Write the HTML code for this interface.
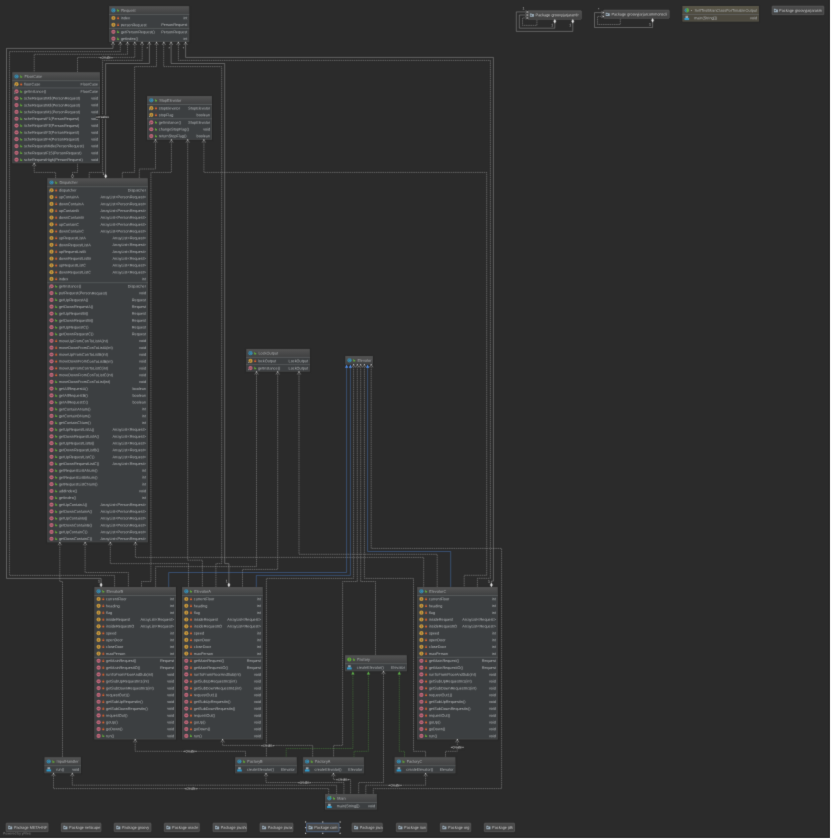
<!DOCTYPE html>
<html><head><meta charset="utf-8"><title>UML diagram</title>
<style>
html,body{margin:0;padding:0;background:#2b2b2b;overflow:hidden}
svg{display:block;will-change:transform;font-family:"Liberation Sans",sans-serif}
.d{fill:none;stroke:#adadad;stroke-width:.42;stroke-dasharray:1.55 .65}
.s{fill:none;stroke:#adadad;stroke-width:.42}
text{white-space:pre;text-rendering:geometricPrecision}
</style></head><body>
<svg width="831" height="839" viewBox="0 0 831 839">
<defs>
<linearGradient id="hg" x1="0" y1="0" x2="0" y2="1"><stop offset="0" stop-color="#535353"/><stop offset="1" stop-color="#3f4041"/></linearGradient>
<linearGradient id="hy" x1="0" y1="0" x2="0" y2="1"><stop offset="0" stop-color="#5a5648"/><stop offset="1" stop-color="#4d4a3f"/></linearGradient>
<linearGradient id="pg" x1="0" y1="0" x2="0" y2="1"><stop offset="0" stop-color="#4d4d4d"/><stop offset="1" stop-color="#404040"/></linearGradient>
<filter id="soft" x="0" y="0" width="831" height="839" filterUnits="userSpaceOnUse" color-interpolation-filters="sRGB"><feConvolveMatrix order="3" kernelMatrix="1 6 1 6 44 6 1 6 1" divisor="72" edgeMode="duplicate" preserveAlpha="false"/></filter>
</defs>
<rect width="831" height="839" fill="#2b2b2b"/>
<g filter="url(#soft)">
<path d="M113.00 42.20 L113.00 48.40 L6.50 48.40 L6.50 578.40 L101.10 578.40 L101.10 587.00" class="s"/>
<path d="M120.30 42.20 L120.30 51.60 L9.40 51.60 L9.40 575.40 L114.60 575.40 L114.60 587.00" class="d"/>
<path d="M127.50 42.20 L127.50 54.30 L34.20 54.30 L34.20 72.20" class="d"/>
<path d="M134.80 42.20 L134.80 57.40 L77.50 57.40 L77.50 72.20" class="d"/>
<path d="M142.20 42.20 L142.20 60.40 L102.60 60.40 L102.60 172.40 L89.20 172.40 L89.20 178.20" class="d"/>
<path d="M149.40 42.20 L149.40 63.50 L105.60 63.50 L105.60 178.20" class="s"/>
<path d="M156.50 42.20 L156.50 66.60 L134.60 66.60 L134.60 172.40 L122.30 172.40 L122.30 178.20" class="d"/>
<path d="M163.70 42.20 L163.70 66.60 L221.70 66.60 L221.70 563.60 L215.90 563.60 L215.90 587.00" class="d"/>
<path d="M171.10 42.20 L171.10 63.50 L224.70 63.50 L224.70 563.60 L228.90 563.60 L228.90 587.00" class="s"/>
<path d="M178.40 42.20 L178.40 60.40 L490.40 60.40 L490.40 578.30 L477.40 578.30 L477.40 587.00" class="d"/>
<path d="M185.60 42.20 L185.60 57.40 L493.40 57.40 L493.40 581.10 L491.40 581.10 L491.40 587.00" class="s"/>
<text transform="rotate(.03 147.30 49.60)" x="147.30" y="49.60" font-size="3.5" text-anchor="middle" fill="#c4c4c4">*</text>
<text transform="rotate(.03 169.20 49.60)" x="169.20" y="49.60" font-size="3.5" text-anchor="middle" fill="#c4c4c4">*</text>
<text transform="rotate(.03 183.40 49.60)" x="183.40" y="49.60" font-size="3.5" text-anchor="middle" fill="#c4c4c4">*</text>
<path d="M155.50 139.80 L155.50 169.00 L139.30 169.00 L139.30 178.20" class="d"/>
<path d="M171.40 139.80 L171.40 172.40 L150.90 172.40 L150.90 581.50 L141.50 581.50 L141.50 587.00" class="d"/>
<path d="M187.70 139.80 L187.70 560.20 L202.40 560.20 L202.40 587.00" class="d"/>
<path d="M203.90 139.80 L203.90 172.40 L486.70 172.40 L486.70 575.30 L464.20 575.30 L464.20 587.00" class="d"/>
<path d="M34.20 163.30 L34.20 172.40 L55.60 172.40 L55.60 178.20" class="d"/>
<path d="M77.50 163.30 L77.50 172.40 L72.50 172.40 L72.50 178.20" class="d"/>
<path d="M59.80 542.40 L59.80 581.50 L62.50 581.50 L62.50 757.20" class="d"/>
<path d="M85.10 542.40 L85.10 572.50 L128.40 572.50 L128.40 587.00" class="d"/>
<path d="M110.30 542.40 L110.30 563.60 L188.50 563.60 L188.50 587.00" class="d"/>
<path d="M135.40 542.40 L135.40 557.40 L423.70 557.40 L423.70 587.00" class="d"/>
<path d="M256.50 371.70 L256.50 566.60 L155.60 566.60 L155.60 587.00" class="d"/>
<path d="M277.70 371.70 L277.70 569.40 L242.50 569.40 L242.50 587.00" class="d"/>
<path d="M299.00 371.70 L299.00 554.30 L437.20 554.30 L437.20 587.00" class="d"/>
<path d="M346.60 364.50 L346.60 572.50 L168.70 572.50 L168.70 587.00" class="s" style="stroke:#4a7fd0"/>
<path d="M350.40 364.50 L350.40 575.40 L256.30 575.40 L256.30 587.00" class="s" style="stroke:#4a7fd0"/>
<path d="M353.60 364.50 L353.60 578.40 L266.40 578.40 L266.40 757.20" class="d"/>
<path d="M357.30 364.50 L357.30 581.50 L342.60 581.50 L342.60 745.40 L333.60 745.40 L333.60 757.20" class="d"/>
<path d="M360.70 364.50 L360.70 581.50 L375.50 581.50 L375.50 655.20" class="d"/>
<path d="M364.40 364.50 L364.40 578.40 L413.50 578.40 L413.50 751.30 L425.60 751.30 L425.60 757.20" class="d"/>
<path d="M367.60 364.50 L367.60 551.50 L450.70 551.50 L450.70 587.00" class="s" style="stroke:#4a7fd0"/>
<path d="M371.20 364.50 L371.20 548.40 L501.60 548.40 L501.60 788.60 L373.30 788.60 L373.30 794.00" class="d"/>
<path d="M135.20 739.50 L135.20 751.30 L245.50 751.30 L245.50 757.20" class="d"/>
<path d="M222.60 739.50 L222.60 745.40 L312.70 745.40 L312.70 757.20" class="d"/>
<path d="M457.30 739.50 L457.30 751.30 L445.50 751.30 L445.50 757.20" class="d"/>
<path d="M352.90 671.30 L352.90 748.50 L286.20 748.50 L286.20 757.20" class="d" style="stroke:#4f9440"/>
<path d="M368.40 671.30 L368.40 751.30 L354.00 751.30 L354.00 757.20" class="d" style="stroke:#4f9440"/>
<path d="M399.30 671.30 L399.30 751.30 L404.50 751.30 L404.50 757.20" class="d" style="stroke:#4f9440"/>
<path d="M383.50 671.30 L383.50 782.50 L358.70 782.50 L358.70 794.00" class="d"/>
<path d="M53.50 773.30 L53.50 788.60 L328.70 788.60 L328.70 794.00" class="d"/>
<path d="M72.30 773.30 L72.30 785.20 L336.60 785.20 L336.60 794.00" class="d"/>
<path d="M266.00 773.40 L266.00 782.50 L343.90 782.50 L343.90 794.00" class="d"/>
<path d="M333.40 773.40 L333.40 779.60 L350.60 779.60 L350.60 794.00" class="d"/>
<path d="M425.60 773.40 L425.60 785.20 L365.80 785.20 L365.80 794.00" class="d"/>
<path d="M572.80 19.30 L572.80 31.40 L516.30 31.40 L516.30 11.90 L527.80 11.90" class="s"/>
<path d="M554.80 19.30 L554.80 28.20 L519.30 28.20 L519.30 15.00 L527.80 15.00" class="s"/>
<path d="M536.90 19.30 L536.90 25.40 L522.50 25.40 L522.50 17.90 L527.80 17.90" class="d"/>
<path d="M652.60 18.30 L652.60 27.50 L594.50 27.50 L594.50 12.60 L603.60 12.60" class="s"/>
<path d="M620.30 18.30 L620.30 24.50 L597.50 24.50 L597.50 16.40 L603.60 16.40" class="d"/>
<rect x="108.30" y="5.90" width="81.80" height="37.10" fill="#202020" fill-opacity=".5"/>
<rect x="109.10" y="6.10" width="80.20" height="36.10" fill="#484949"/>
<rect x="110.00" y="14.50" width="78.40" height="26.80" fill="#3c3f41"/>
<rect x="109.60" y="6.40" width="79.20" height="8.10" fill="url(#hg)"/>
<circle cx="113.40" cy="10.40" r="2.1" fill="#3a8fb5"/>
<path d="M114.20 9.60a1.1 1.1 0 1 0 0 1.6" fill="none" stroke="#2b2b2b" stroke-opacity=".5" stroke-width=".55"/>
<path d="M117.10 9.10l.7 0 0 1 1.3 0 0 1.5-2 0z" fill="#62a83a"/>
<text transform="rotate(.03 121.30 11.75)" x="121.30" y="11.75" font-size="3.85" text-anchor="start" fill="#aeb1b3">Request</text>
<line x1="109.10" x2="189.30" y1="14.60" y2="14.60" stroke="#676b6d" stroke-width=".55"/>
<circle cx="113.40" cy="18.01" r="2.1" fill="#c8983c"/>
<rect x="113.10" y="16.91" width=".6" height="2.2" fill="#2b2b2b" fill-opacity=".5"/>
<rect x="117.15" y="17.66" width="1.9" height="1.5" fill="#dd6330"/><path d="M117.60 17.71v-.45a.5 .5 0 0 1 1 0v.45" fill="none" stroke="#dd6330" stroke-width=".38"/>
<text transform="rotate(.03 120.90 19.31)" x="120.90" y="19.31" font-size="3.8" text-anchor="start" fill="#b6b9bb">index</text>
<text transform="rotate(.03 187.40 19.31)" x="187.40" y="19.31" font-size="3.8" text-anchor="end" fill="#b6b9bb">int</text>
<circle cx="113.40" cy="24.84" r="2.1" fill="#c8983c"/>
<rect x="113.10" y="23.74" width=".6" height="2.2" fill="#2b2b2b" fill-opacity=".5"/>
<rect x="117.15" y="24.49" width="1.9" height="1.5" fill="#dd6330"/><path d="M117.60 24.54v-.45a.5 .5 0 0 1 1 0v.45" fill="none" stroke="#dd6330" stroke-width=".38"/>
<text transform="rotate(.03 120.90 26.14)" x="120.90" y="26.14" font-size="3.8" text-anchor="start" fill="#b6b9bb">personRequest</text>
<text transform="rotate(.03 187.40 26.14)" x="187.40" y="26.14" font-size="3.8" text-anchor="end" fill="#b6b9bb">PersonRequest</text>
<line x1="109.10" x2="189.30" y1="28.45" y2="28.45" stroke="#676b6d" stroke-width=".55"/>
<circle cx="113.40" cy="31.86" r="2.1" fill="#c4687c"/>
<rect x="112.30" y="31.31" width="2.2" height="1.1" fill="#2b2b2b" fill-opacity=".4"/>
<path d="M117.10 30.56l.7 0 0 1 1.3 0 0 1.5-2 0z" fill="#62a83a"/>
<text transform="rotate(.03 120.90 33.16)" x="120.90" y="33.16" font-size="3.8" text-anchor="start" fill="#b6b9bb">getPersonRequest()</text>
<text transform="rotate(.03 187.40 33.16)" x="187.40" y="33.16" font-size="3.8" text-anchor="end" fill="#b6b9bb">PersonRequest</text>
<circle cx="113.40" cy="38.69" r="2.1" fill="#c4687c"/>
<rect x="112.30" y="38.14" width="2.2" height="1.1" fill="#2b2b2b" fill-opacity=".4"/>
<path d="M117.10 37.39l.7 0 0 1 1.3 0 0 1.5-2 0z" fill="#62a83a"/>
<text transform="rotate(.03 120.90 39.99)" x="120.90" y="39.99" font-size="3.8" text-anchor="start" fill="#b6b9bb">getIndex()</text>
<text transform="rotate(.03 187.40 39.99)" x="187.40" y="39.99" font-size="3.8" text-anchor="end" fill="#b6b9bb">int</text>
<rect x="11.40" y="72.00" width="89.40" height="92.10" fill="#202020" fill-opacity=".5"/>
<rect x="12.20" y="72.20" width="87.80" height="91.10" fill="#484949"/>
<rect x="13.10" y="80.60" width="86.00" height="81.80" fill="#3c3f41"/>
<rect x="12.70" y="72.50" width="86.80" height="8.10" fill="url(#hg)"/>
<circle cx="16.50" cy="76.50" r="2.1" fill="#3a8fb5"/>
<path d="M17.30 75.70a1.1 1.1 0 1 0 0 1.6" fill="none" stroke="#2b2b2b" stroke-opacity=".5" stroke-width=".55"/>
<path d="M20.20 75.20l.7 0 0 1 1.3 0 0 1.5-2 0z" fill="#62a83a"/>
<text transform="rotate(.03 24.40 77.85)" x="24.40" y="77.85" font-size="3.85" text-anchor="start" fill="#aeb1b3">FloorCase</text>
<line x1="12.20" x2="100.00" y1="80.70" y2="80.70" stroke="#676b6d" stroke-width=".55"/>
<circle cx="16.50" cy="84.21" r="2.1" fill="#c8983c"/>
<rect x="16.20" y="83.11" width=".6" height="2.2" fill="#2b2b2b" fill-opacity=".5"/>
<rect x="14.10" y="85.01" width="1.6" height="1.4" fill="#3c3f41"/><rect x="14.20" y="85.51" width="1.2" height=".7" fill="#c8c8c8"/>
<rect x="20.25" y="83.86" width="1.9" height="1.5" fill="#dd6330"/><path d="M20.70 83.91v-.45a.5 .5 0 0 1 1 0v.45" fill="none" stroke="#dd6330" stroke-width=".38"/>
<text transform="rotate(.03 24.00 85.51)" x="24.00" y="85.51" font-size="3.8" text-anchor="start" fill="#b6b9bb">floorCase</text>
<text transform="rotate(.03 98.10 85.51)" x="98.10" y="85.51" font-size="3.8" text-anchor="end" fill="#b6b9bb">FloorCase</text>
<line x1="12.20" x2="100.00" y1="87.93" y2="87.93" stroke="#676b6d" stroke-width=".55"/>
<circle cx="16.50" cy="91.44" r="2.1" fill="#c4687c"/>
<rect x="15.40" y="90.89" width="2.2" height="1.1" fill="#2b2b2b" fill-opacity=".4"/>
<rect x="14.10" y="92.24" width="1.6" height="1.4" fill="#3c3f41"/><rect x="14.20" y="92.74" width="1.2" height=".7" fill="#c8c8c8"/>
<path d="M20.20 90.14l.7 0 0 1 1.3 0 0 1.5-2 0z" fill="#62a83a"/>
<text transform="rotate(.03 24.00 92.74)" x="24.00" y="92.74" font-size="3.8" text-anchor="start" fill="#b6b9bb">getInstance()</text>
<text transform="rotate(.03 98.10 92.74)" x="98.10" y="92.74" font-size="3.8" text-anchor="end" fill="#b6b9bb">FloorCase</text>
<circle cx="16.50" cy="98.26" r="2.1" fill="#c4687c"/>
<rect x="15.40" y="97.71" width="2.2" height="1.1" fill="#2b2b2b" fill-opacity=".4"/>
<path d="M20.20 96.96l.7 0 0 1 1.3 0 0 1.5-2 0z" fill="#62a83a"/>
<text transform="rotate(.03 24.00 99.56)" x="24.00" y="99.56" font-size="3.8" text-anchor="start" fill="#b6b9bb">scheRequestM3(PersonRequest)</text>
<text transform="rotate(.03 98.10 99.56)" x="98.10" y="99.56" font-size="3.8" text-anchor="end" fill="#b6b9bb">void</text>
<circle cx="16.50" cy="105.09" r="2.1" fill="#c4687c"/>
<rect x="15.40" y="104.54" width="2.2" height="1.1" fill="#2b2b2b" fill-opacity=".4"/>
<path d="M20.20 103.79l.7 0 0 1 1.3 0 0 1.5-2 0z" fill="#62a83a"/>
<text transform="rotate(.03 24.00 106.39)" x="24.00" y="106.39" font-size="3.8" text-anchor="start" fill="#b6b9bb">scheRequestM2(PersonRequest)</text>
<text transform="rotate(.03 98.10 106.39)" x="98.10" y="106.39" font-size="3.8" text-anchor="end" fill="#b6b9bb">void</text>
<circle cx="16.50" cy="111.91" r="2.1" fill="#c4687c"/>
<rect x="15.40" y="111.36" width="2.2" height="1.1" fill="#2b2b2b" fill-opacity=".4"/>
<path d="M20.20 110.61l.7 0 0 1 1.3 0 0 1.5-2 0z" fill="#62a83a"/>
<text transform="rotate(.03 24.00 113.21)" x="24.00" y="113.21" font-size="3.8" text-anchor="start" fill="#b6b9bb">scheRequestM1(PersonRequest)</text>
<text transform="rotate(.03 98.10 113.21)" x="98.10" y="113.21" font-size="3.8" text-anchor="end" fill="#b6b9bb">void</text>
<circle cx="16.50" cy="118.74" r="2.1" fill="#c4687c"/>
<rect x="15.40" y="118.19" width="2.2" height="1.1" fill="#2b2b2b" fill-opacity=".4"/>
<path d="M20.20 117.44l.7 0 0 1 1.3 0 0 1.5-2 0z" fill="#62a83a"/>
<text transform="rotate(.03 24.00 120.04)" x="24.00" y="120.04" font-size="3.8" text-anchor="start" fill="#b6b9bb">scheRequestF1(PersonRequest)</text>
<text transform="rotate(.03 98.10 120.04)" x="98.10" y="120.04" font-size="3.8" text-anchor="end" fill="#b6b9bb">void</text>
<circle cx="16.50" cy="125.56" r="2.1" fill="#c4687c"/>
<rect x="15.40" y="125.01" width="2.2" height="1.1" fill="#2b2b2b" fill-opacity=".4"/>
<path d="M20.20 124.26l.7 0 0 1 1.3 0 0 1.5-2 0z" fill="#62a83a"/>
<text transform="rotate(.03 24.00 126.86)" x="24.00" y="126.86" font-size="3.8" text-anchor="start" fill="#b6b9bb">scheRequestF2(PersonRequest)</text>
<text transform="rotate(.03 98.10 126.86)" x="98.10" y="126.86" font-size="3.8" text-anchor="end" fill="#b6b9bb">void</text>
<circle cx="16.50" cy="132.39" r="2.1" fill="#c4687c"/>
<rect x="15.40" y="131.84" width="2.2" height="1.1" fill="#2b2b2b" fill-opacity=".4"/>
<path d="M20.20 131.09l.7 0 0 1 1.3 0 0 1.5-2 0z" fill="#62a83a"/>
<text transform="rotate(.03 24.00 133.69)" x="24.00" y="133.69" font-size="3.8" text-anchor="start" fill="#b6b9bb">scheRequestF3(PersonRequest)</text>
<text transform="rotate(.03 98.10 133.69)" x="98.10" y="133.69" font-size="3.8" text-anchor="end" fill="#b6b9bb">void</text>
<circle cx="16.50" cy="139.21" r="2.1" fill="#c4687c"/>
<rect x="15.40" y="138.66" width="2.2" height="1.1" fill="#2b2b2b" fill-opacity=".4"/>
<path d="M20.20 137.91l.7 0 0 1 1.3 0 0 1.5-2 0z" fill="#62a83a"/>
<text transform="rotate(.03 24.00 140.51)" x="24.00" y="140.51" font-size="3.8" text-anchor="start" fill="#b6b9bb">scheRequestF4(PersonRequest)</text>
<text transform="rotate(.03 98.10 140.51)" x="98.10" y="140.51" font-size="3.8" text-anchor="end" fill="#b6b9bb">void</text>
<circle cx="16.50" cy="146.04" r="2.1" fill="#c4687c"/>
<rect x="15.40" y="145.49" width="2.2" height="1.1" fill="#2b2b2b" fill-opacity=".4"/>
<path d="M20.20 144.74l.7 0 0 1 1.3 0 0 1.5-2 0z" fill="#62a83a"/>
<text transform="rotate(.03 24.00 147.34)" x="24.00" y="147.34" font-size="3.8" text-anchor="start" fill="#b6b9bb">scheRequestMidle(PersonRequest)</text>
<text transform="rotate(.03 98.10 147.34)" x="98.10" y="147.34" font-size="3.8" text-anchor="end" fill="#b6b9bb">void</text>
<circle cx="16.50" cy="152.86" r="2.1" fill="#c4687c"/>
<rect x="15.40" y="152.31" width="2.2" height="1.1" fill="#2b2b2b" fill-opacity=".4"/>
<path d="M20.20 151.56l.7 0 0 1 1.3 0 0 1.5-2 0z" fill="#62a83a"/>
<text transform="rotate(.03 24.00 154.16)" x="24.00" y="154.16" font-size="3.8" text-anchor="start" fill="#b6b9bb">scheRequestF15(PersonRequest)</text>
<text transform="rotate(.03 98.10 154.16)" x="98.10" y="154.16" font-size="3.8" text-anchor="end" fill="#b6b9bb">void</text>
<circle cx="16.50" cy="159.69" r="2.1" fill="#c4687c"/>
<rect x="15.40" y="159.14" width="2.2" height="1.1" fill="#2b2b2b" fill-opacity=".4"/>
<path d="M20.20 158.39l.7 0 0 1 1.3 0 0 1.5-2 0z" fill="#62a83a"/>
<text transform="rotate(.03 24.00 160.99)" x="24.00" y="160.99" font-size="3.8" text-anchor="start" fill="#b6b9bb">scheRequestHigh(PersonRequest)</text>
<text transform="rotate(.03 98.10 160.99)" x="98.10" y="160.99" font-size="3.8" text-anchor="end" fill="#b6b9bb">void</text>
<rect x="146.20" y="95.80" width="66.60" height="44.80" fill="#202020" fill-opacity=".5"/>
<rect x="147.00" y="96.00" width="65.00" height="43.80" fill="#484949"/>
<rect x="147.90" y="104.40" width="63.20" height="34.50" fill="#3c3f41"/>
<rect x="147.50" y="96.30" width="64.00" height="8.10" fill="url(#hg)"/>
<circle cx="151.30" cy="100.30" r="2.1" fill="#3a8fb5"/>
<path d="M152.10 99.50a1.1 1.1 0 1 0 0 1.6" fill="none" stroke="#2b2b2b" stroke-opacity=".5" stroke-width=".55"/>
<path d="M155.00 99.00l.7 0 0 1 1.3 0 0 1.5-2 0z" fill="#62a83a"/>
<text transform="rotate(.03 159.20 101.65)" x="159.20" y="101.65" font-size="3.85" text-anchor="start" fill="#aeb1b3">StopElevator</text>
<line x1="147.00" x2="212.00" y1="104.50" y2="104.50" stroke="#676b6d" stroke-width=".55"/>
<circle cx="151.30" cy="108.13" r="2.1" fill="#c8983c"/>
<rect x="151.00" y="107.03" width=".6" height="2.2" fill="#2b2b2b" fill-opacity=".5"/>
<rect x="148.90" y="108.93" width="1.6" height="1.4" fill="#3c3f41"/><rect x="149.00" y="109.43" width="1.2" height=".7" fill="#c8c8c8"/>
<rect x="155.05" y="107.78" width="1.9" height="1.5" fill="#dd6330"/><path d="M155.50 107.83v-.45a.5 .5 0 0 1 1 0v.45" fill="none" stroke="#dd6330" stroke-width=".38"/>
<text transform="rotate(.03 158.80 109.43)" x="158.80" y="109.43" font-size="3.8" text-anchor="start" fill="#b6b9bb">stopElevator</text>
<text transform="rotate(.03 210.10 109.43)" x="210.10" y="109.43" font-size="3.8" text-anchor="end" fill="#b6b9bb">StopElevator</text>
<circle cx="151.30" cy="114.96" r="2.1" fill="#c8983c"/>
<rect x="151.00" y="113.86" width=".6" height="2.2" fill="#2b2b2b" fill-opacity=".5"/>
<rect x="148.90" y="115.76" width="1.6" height="1.4" fill="#3c3f41"/><rect x="149.00" y="116.26" width="1.2" height=".7" fill="#c8c8c8"/>
<rect x="155.05" y="114.61" width="1.9" height="1.5" fill="#dd6330"/><path d="M155.50 114.66v-.45a.5 .5 0 0 1 1 0v.45" fill="none" stroke="#dd6330" stroke-width=".38"/>
<text transform="rotate(.03 158.80 116.26)" x="158.80" y="116.26" font-size="3.8" text-anchor="start" fill="#b6b9bb">stopFlag</text>
<text transform="rotate(.03 210.10 116.26)" x="210.10" y="116.26" font-size="3.8" text-anchor="end" fill="#b6b9bb">boolean</text>
<line x1="147.00" x2="212.00" y1="118.79" y2="118.79" stroke="#676b6d" stroke-width=".55"/>
<circle cx="151.30" cy="122.42" r="2.1" fill="#c4687c"/>
<rect x="150.20" y="121.87" width="2.2" height="1.1" fill="#2b2b2b" fill-opacity=".4"/>
<rect x="148.90" y="123.22" width="1.6" height="1.4" fill="#3c3f41"/><rect x="149.00" y="123.72" width="1.2" height=".7" fill="#c8c8c8"/>
<path d="M155.00 121.12l.7 0 0 1 1.3 0 0 1.5-2 0z" fill="#62a83a"/>
<text transform="rotate(.03 158.80 123.72)" x="158.80" y="123.72" font-size="3.8" text-anchor="start" fill="#b6b9bb">getInstance()</text>
<text transform="rotate(.03 210.10 123.72)" x="210.10" y="123.72" font-size="3.8" text-anchor="end" fill="#b6b9bb">StopElevator</text>
<circle cx="151.30" cy="129.24" r="2.1" fill="#c4687c"/>
<rect x="150.20" y="128.69" width="2.2" height="1.1" fill="#2b2b2b" fill-opacity=".4"/>
<path d="M155.00 127.94l.7 0 0 1 1.3 0 0 1.5-2 0z" fill="#62a83a"/>
<text transform="rotate(.03 158.80 130.54)" x="158.80" y="130.54" font-size="3.8" text-anchor="start" fill="#b6b9bb">changeStopFlag()</text>
<text transform="rotate(.03 210.10 130.54)" x="210.10" y="130.54" font-size="3.8" text-anchor="end" fill="#b6b9bb">void</text>
<circle cx="151.30" cy="136.07" r="2.1" fill="#c4687c"/>
<rect x="150.20" y="135.52" width="2.2" height="1.1" fill="#2b2b2b" fill-opacity=".4"/>
<path d="M155.00 134.77l.7 0 0 1 1.3 0 0 1.5-2 0z" fill="#62a83a"/>
<text transform="rotate(.03 158.80 137.37)" x="158.80" y="137.37" font-size="3.8" text-anchor="start" fill="#b6b9bb">returnStopFlag()</text>
<text transform="rotate(.03 210.10 137.37)" x="210.10" y="137.37" font-size="3.8" text-anchor="end" fill="#b6b9bb">boolean</text>
<rect x="46.40" y="178.00" width="102.30" height="365.20" fill="#202020" fill-opacity=".5"/>
<rect x="47.20" y="178.20" width="100.70" height="364.20" fill="#484949"/>
<rect x="48.10" y="186.60" width="98.90" height="354.90" fill="#3c3f41"/>
<rect x="47.70" y="178.50" width="99.70" height="8.10" fill="url(#hg)"/>
<circle cx="51.50" cy="182.50" r="2.1" fill="#3a8fb5"/>
<path d="M52.30 181.70a1.1 1.1 0 1 0 0 1.6" fill="none" stroke="#2b2b2b" stroke-opacity=".5" stroke-width=".55"/>
<path d="M55.20 181.20l.7 0 0 1 1.3 0 0 1.5-2 0z" fill="#62a83a"/>
<text transform="rotate(.03 59.40 183.85)" x="59.40" y="183.85" font-size="3.85" text-anchor="start" fill="#aeb1b3">Dispatcher</text>
<line x1="47.20" x2="147.90" y1="186.70" y2="186.70" stroke="#676b6d" stroke-width=".55"/>
<circle cx="51.50" cy="190.24" r="2.1" fill="#c8983c"/>
<rect x="51.20" y="189.14" width=".6" height="2.2" fill="#2b2b2b" fill-opacity=".5"/>
<rect x="49.10" y="191.04" width="1.6" height="1.4" fill="#3c3f41"/><rect x="49.20" y="191.54" width="1.2" height=".7" fill="#c8c8c8"/>
<rect x="55.25" y="189.89" width="1.9" height="1.5" fill="#dd6330"/><path d="M55.70 189.94v-.45a.5 .5 0 0 1 1 0v.45" fill="none" stroke="#dd6330" stroke-width=".38"/>
<text transform="rotate(.03 59.00 191.54)" x="59.00" y="191.54" font-size="3.8" text-anchor="start" fill="#b6b9bb">dispatcher</text>
<text transform="rotate(.03 146.00 191.54)" x="146.00" y="191.54" font-size="3.8" text-anchor="end" fill="#b6b9bb">Dispatcher</text>
<circle cx="51.50" cy="197.06" r="2.1" fill="#c8983c"/>
<rect x="51.20" y="195.96" width=".6" height="2.2" fill="#2b2b2b" fill-opacity=".5"/>
<rect x="55.25" y="196.71" width="1.9" height="1.5" fill="#dd6330"/><path d="M55.70 196.76v-.45a.5 .5 0 0 1 1 0v.45" fill="none" stroke="#dd6330" stroke-width=".38"/>
<text transform="rotate(.03 59.00 198.36)" x="59.00" y="198.36" font-size="3.8" text-anchor="start" fill="#b6b9bb">upContainA</text>
<text transform="rotate(.03 146.00 198.36)" x="146.00" y="198.36" font-size="3.8" text-anchor="end" fill="#b6b9bb">ArrayList&lt;PersonRequest&gt;</text>
<circle cx="51.50" cy="203.89" r="2.1" fill="#c8983c"/>
<rect x="51.20" y="202.79" width=".6" height="2.2" fill="#2b2b2b" fill-opacity=".5"/>
<rect x="55.25" y="203.54" width="1.9" height="1.5" fill="#dd6330"/><path d="M55.70 203.59v-.45a.5 .5 0 0 1 1 0v.45" fill="none" stroke="#dd6330" stroke-width=".38"/>
<text transform="rotate(.03 59.00 205.19)" x="59.00" y="205.19" font-size="3.8" text-anchor="start" fill="#b6b9bb">downContainA</text>
<text transform="rotate(.03 146.00 205.19)" x="146.00" y="205.19" font-size="3.8" text-anchor="end" fill="#b6b9bb">ArrayList&lt;PersonRequest&gt;</text>
<circle cx="51.50" cy="210.71" r="2.1" fill="#c8983c"/>
<rect x="51.20" y="209.61" width=".6" height="2.2" fill="#2b2b2b" fill-opacity=".5"/>
<rect x="55.25" y="210.36" width="1.9" height="1.5" fill="#dd6330"/><path d="M55.70 210.41v-.45a.5 .5 0 0 1 1 0v.45" fill="none" stroke="#dd6330" stroke-width=".38"/>
<text transform="rotate(.03 59.00 212.01)" x="59.00" y="212.01" font-size="3.8" text-anchor="start" fill="#b6b9bb">upContainB</text>
<text transform="rotate(.03 146.00 212.01)" x="146.00" y="212.01" font-size="3.8" text-anchor="end" fill="#b6b9bb">ArrayList&lt;PersonRequest&gt;</text>
<circle cx="51.50" cy="217.54" r="2.1" fill="#c8983c"/>
<rect x="51.20" y="216.44" width=".6" height="2.2" fill="#2b2b2b" fill-opacity=".5"/>
<rect x="55.25" y="217.19" width="1.9" height="1.5" fill="#dd6330"/><path d="M55.70 217.24v-.45a.5 .5 0 0 1 1 0v.45" fill="none" stroke="#dd6330" stroke-width=".38"/>
<text transform="rotate(.03 59.00 218.84)" x="59.00" y="218.84" font-size="3.8" text-anchor="start" fill="#b6b9bb">downContainB</text>
<text transform="rotate(.03 146.00 218.84)" x="146.00" y="218.84" font-size="3.8" text-anchor="end" fill="#b6b9bb">ArrayList&lt;PersonRequest&gt;</text>
<circle cx="51.50" cy="224.36" r="2.1" fill="#c8983c"/>
<rect x="51.20" y="223.26" width=".6" height="2.2" fill="#2b2b2b" fill-opacity=".5"/>
<rect x="55.25" y="224.01" width="1.9" height="1.5" fill="#dd6330"/><path d="M55.70 224.06v-.45a.5 .5 0 0 1 1 0v.45" fill="none" stroke="#dd6330" stroke-width=".38"/>
<text transform="rotate(.03 59.00 225.66)" x="59.00" y="225.66" font-size="3.8" text-anchor="start" fill="#b6b9bb">upContainC</text>
<text transform="rotate(.03 146.00 225.66)" x="146.00" y="225.66" font-size="3.8" text-anchor="end" fill="#b6b9bb">ArrayList&lt;PersonRequest&gt;</text>
<circle cx="51.50" cy="231.19" r="2.1" fill="#c8983c"/>
<rect x="51.20" y="230.09" width=".6" height="2.2" fill="#2b2b2b" fill-opacity=".5"/>
<rect x="55.25" y="230.84" width="1.9" height="1.5" fill="#dd6330"/><path d="M55.70 230.89v-.45a.5 .5 0 0 1 1 0v.45" fill="none" stroke="#dd6330" stroke-width=".38"/>
<text transform="rotate(.03 59.00 232.49)" x="59.00" y="232.49" font-size="3.8" text-anchor="start" fill="#b6b9bb">downContainC</text>
<text transform="rotate(.03 146.00 232.49)" x="146.00" y="232.49" font-size="3.8" text-anchor="end" fill="#b6b9bb">ArrayList&lt;PersonRequest&gt;</text>
<circle cx="51.50" cy="238.01" r="2.1" fill="#c8983c"/>
<rect x="51.20" y="236.91" width=".6" height="2.2" fill="#2b2b2b" fill-opacity=".5"/>
<rect x="55.25" y="237.66" width="1.9" height="1.5" fill="#dd6330"/><path d="M55.70 237.71v-.45a.5 .5 0 0 1 1 0v.45" fill="none" stroke="#dd6330" stroke-width=".38"/>
<text transform="rotate(.03 59.00 239.31)" x="59.00" y="239.31" font-size="3.8" text-anchor="start" fill="#b6b9bb">upRequestListA</text>
<text transform="rotate(.03 146.00 239.31)" x="146.00" y="239.31" font-size="3.8" text-anchor="end" fill="#b6b9bb">ArrayList&lt;Request&gt;</text>
<circle cx="51.50" cy="244.84" r="2.1" fill="#c8983c"/>
<rect x="51.20" y="243.74" width=".6" height="2.2" fill="#2b2b2b" fill-opacity=".5"/>
<rect x="55.25" y="244.49" width="1.9" height="1.5" fill="#dd6330"/><path d="M55.70 244.54v-.45a.5 .5 0 0 1 1 0v.45" fill="none" stroke="#dd6330" stroke-width=".38"/>
<text transform="rotate(.03 59.00 246.14)" x="59.00" y="246.14" font-size="3.8" text-anchor="start" fill="#b6b9bb">downRequestListA</text>
<text transform="rotate(.03 146.00 246.14)" x="146.00" y="246.14" font-size="3.8" text-anchor="end" fill="#b6b9bb">ArrayList&lt;Request&gt;</text>
<circle cx="51.50" cy="251.66" r="2.1" fill="#c8983c"/>
<rect x="51.20" y="250.56" width=".6" height="2.2" fill="#2b2b2b" fill-opacity=".5"/>
<rect x="55.25" y="251.31" width="1.9" height="1.5" fill="#dd6330"/><path d="M55.70 251.36v-.45a.5 .5 0 0 1 1 0v.45" fill="none" stroke="#dd6330" stroke-width=".38"/>
<text transform="rotate(.03 59.00 252.96)" x="59.00" y="252.96" font-size="3.8" text-anchor="start" fill="#b6b9bb">upRequestListB</text>
<text transform="rotate(.03 146.00 252.96)" x="146.00" y="252.96" font-size="3.8" text-anchor="end" fill="#b6b9bb">ArrayList&lt;Request&gt;</text>
<circle cx="51.50" cy="258.49" r="2.1" fill="#c8983c"/>
<rect x="51.20" y="257.39" width=".6" height="2.2" fill="#2b2b2b" fill-opacity=".5"/>
<rect x="55.25" y="258.14" width="1.9" height="1.5" fill="#dd6330"/><path d="M55.70 258.19v-.45a.5 .5 0 0 1 1 0v.45" fill="none" stroke="#dd6330" stroke-width=".38"/>
<text transform="rotate(.03 59.00 259.79)" x="59.00" y="259.79" font-size="3.8" text-anchor="start" fill="#b6b9bb">downRequestListB</text>
<text transform="rotate(.03 146.00 259.79)" x="146.00" y="259.79" font-size="3.8" text-anchor="end" fill="#b6b9bb">ArrayList&lt;Request&gt;</text>
<circle cx="51.50" cy="265.31" r="2.1" fill="#c8983c"/>
<rect x="51.20" y="264.21" width=".6" height="2.2" fill="#2b2b2b" fill-opacity=".5"/>
<rect x="55.25" y="264.96" width="1.9" height="1.5" fill="#dd6330"/><path d="M55.70 265.01v-.45a.5 .5 0 0 1 1 0v.45" fill="none" stroke="#dd6330" stroke-width=".38"/>
<text transform="rotate(.03 59.00 266.61)" x="59.00" y="266.61" font-size="3.8" text-anchor="start" fill="#b6b9bb">upRequestListC</text>
<text transform="rotate(.03 146.00 266.61)" x="146.00" y="266.61" font-size="3.8" text-anchor="end" fill="#b6b9bb">ArrayList&lt;Request&gt;</text>
<circle cx="51.50" cy="272.14" r="2.1" fill="#c8983c"/>
<rect x="51.20" y="271.04" width=".6" height="2.2" fill="#2b2b2b" fill-opacity=".5"/>
<rect x="55.25" y="271.79" width="1.9" height="1.5" fill="#dd6330"/><path d="M55.70 271.84v-.45a.5 .5 0 0 1 1 0v.45" fill="none" stroke="#dd6330" stroke-width=".38"/>
<text transform="rotate(.03 59.00 273.44)" x="59.00" y="273.44" font-size="3.8" text-anchor="start" fill="#b6b9bb">downRequestListC</text>
<text transform="rotate(.03 146.00 273.44)" x="146.00" y="273.44" font-size="3.8" text-anchor="end" fill="#b6b9bb">ArrayList&lt;Request&gt;</text>
<circle cx="51.50" cy="278.96" r="2.1" fill="#c8983c"/>
<rect x="51.20" y="277.86" width=".6" height="2.2" fill="#2b2b2b" fill-opacity=".5"/>
<rect x="55.25" y="278.61" width="1.9" height="1.5" fill="#dd6330"/><path d="M55.70 278.66v-.45a.5 .5 0 0 1 1 0v.45" fill="none" stroke="#dd6330" stroke-width=".38"/>
<text transform="rotate(.03 59.00 280.26)" x="59.00" y="280.26" font-size="3.8" text-anchor="start" fill="#b6b9bb">index</text>
<text transform="rotate(.03 146.00 280.26)" x="146.00" y="280.26" font-size="3.8" text-anchor="end" fill="#b6b9bb">int</text>
<line x1="47.20" x2="147.90" y1="282.70" y2="282.70" stroke="#676b6d" stroke-width=".55"/>
<circle cx="51.50" cy="286.24" r="2.1" fill="#c4687c"/>
<rect x="50.40" y="285.69" width="2.2" height="1.1" fill="#2b2b2b" fill-opacity=".4"/>
<rect x="49.10" y="287.04" width="1.6" height="1.4" fill="#3c3f41"/><rect x="49.20" y="287.54" width="1.2" height=".7" fill="#c8c8c8"/>
<path d="M55.20 284.94l.7 0 0 1 1.3 0 0 1.5-2 0z" fill="#62a83a"/>
<text transform="rotate(.03 59.00 287.54)" x="59.00" y="287.54" font-size="3.8" text-anchor="start" fill="#b6b9bb">getInstance()</text>
<text transform="rotate(.03 146.00 287.54)" x="146.00" y="287.54" font-size="3.8" text-anchor="end" fill="#b6b9bb">Dispatcher</text>
<circle cx="51.50" cy="293.06" r="2.1" fill="#c4687c"/>
<rect x="50.40" y="292.51" width="2.2" height="1.1" fill="#2b2b2b" fill-opacity=".4"/>
<path d="M55.20 291.76l.7 0 0 1 1.3 0 0 1.5-2 0z" fill="#62a83a"/>
<text transform="rotate(.03 59.00 294.36)" x="59.00" y="294.36" font-size="3.8" text-anchor="start" fill="#b6b9bb">putRequest(PersonRequest)</text>
<text transform="rotate(.03 146.00 294.36)" x="146.00" y="294.36" font-size="3.8" text-anchor="end" fill="#b6b9bb">void</text>
<circle cx="51.50" cy="299.89" r="2.1" fill="#c4687c"/>
<rect x="50.40" y="299.34" width="2.2" height="1.1" fill="#2b2b2b" fill-opacity=".4"/>
<path d="M55.20 298.59l.7 0 0 1 1.3 0 0 1.5-2 0z" fill="#62a83a"/>
<text transform="rotate(.03 59.00 301.19)" x="59.00" y="301.19" font-size="3.8" text-anchor="start" fill="#b6b9bb">getUpRequestA()</text>
<text transform="rotate(.03 146.00 301.19)" x="146.00" y="301.19" font-size="3.8" text-anchor="end" fill="#b6b9bb">Request</text>
<circle cx="51.50" cy="306.71" r="2.1" fill="#c4687c"/>
<rect x="50.40" y="306.16" width="2.2" height="1.1" fill="#2b2b2b" fill-opacity=".4"/>
<path d="M55.20 305.41l.7 0 0 1 1.3 0 0 1.5-2 0z" fill="#62a83a"/>
<text transform="rotate(.03 59.00 308.01)" x="59.00" y="308.01" font-size="3.8" text-anchor="start" fill="#b6b9bb">getDownRequestA()</text>
<text transform="rotate(.03 146.00 308.01)" x="146.00" y="308.01" font-size="3.8" text-anchor="end" fill="#b6b9bb">Request</text>
<circle cx="51.50" cy="313.54" r="2.1" fill="#c4687c"/>
<rect x="50.40" y="312.99" width="2.2" height="1.1" fill="#2b2b2b" fill-opacity=".4"/>
<path d="M55.20 312.24l.7 0 0 1 1.3 0 0 1.5-2 0z" fill="#62a83a"/>
<text transform="rotate(.03 59.00 314.84)" x="59.00" y="314.84" font-size="3.8" text-anchor="start" fill="#b6b9bb">getUpRequestB()</text>
<text transform="rotate(.03 146.00 314.84)" x="146.00" y="314.84" font-size="3.8" text-anchor="end" fill="#b6b9bb">Request</text>
<circle cx="51.50" cy="320.36" r="2.1" fill="#c4687c"/>
<rect x="50.40" y="319.81" width="2.2" height="1.1" fill="#2b2b2b" fill-opacity=".4"/>
<path d="M55.20 319.06l.7 0 0 1 1.3 0 0 1.5-2 0z" fill="#62a83a"/>
<text transform="rotate(.03 59.00 321.66)" x="59.00" y="321.66" font-size="3.8" text-anchor="start" fill="#b6b9bb">getDownRequestB()</text>
<text transform="rotate(.03 146.00 321.66)" x="146.00" y="321.66" font-size="3.8" text-anchor="end" fill="#b6b9bb">Request</text>
<circle cx="51.50" cy="327.19" r="2.1" fill="#c4687c"/>
<rect x="50.40" y="326.64" width="2.2" height="1.1" fill="#2b2b2b" fill-opacity=".4"/>
<path d="M55.20 325.89l.7 0 0 1 1.3 0 0 1.5-2 0z" fill="#62a83a"/>
<text transform="rotate(.03 59.00 328.49)" x="59.00" y="328.49" font-size="3.8" text-anchor="start" fill="#b6b9bb">getUpRequestC()</text>
<text transform="rotate(.03 146.00 328.49)" x="146.00" y="328.49" font-size="3.8" text-anchor="end" fill="#b6b9bb">Request</text>
<circle cx="51.50" cy="334.01" r="2.1" fill="#c4687c"/>
<rect x="50.40" y="333.46" width="2.2" height="1.1" fill="#2b2b2b" fill-opacity=".4"/>
<path d="M55.20 332.71l.7 0 0 1 1.3 0 0 1.5-2 0z" fill="#62a83a"/>
<text transform="rotate(.03 59.00 335.31)" x="59.00" y="335.31" font-size="3.8" text-anchor="start" fill="#b6b9bb">getDownRequestC()</text>
<text transform="rotate(.03 146.00 335.31)" x="146.00" y="335.31" font-size="3.8" text-anchor="end" fill="#b6b9bb">Request</text>
<circle cx="51.50" cy="340.84" r="2.1" fill="#c4687c"/>
<rect x="50.40" y="340.29" width="2.2" height="1.1" fill="#2b2b2b" fill-opacity=".4"/>
<rect x="55.25" y="340.49" width="1.9" height="1.5" fill="#dd6330"/><path d="M55.70 340.54v-.45a.5 .5 0 0 1 1 0v.45" fill="none" stroke="#dd6330" stroke-width=".38"/>
<text transform="rotate(.03 59.00 342.14)" x="59.00" y="342.14" font-size="3.8" text-anchor="start" fill="#b6b9bb">moveUpFromConToListA(int)</text>
<text transform="rotate(.03 146.00 342.14)" x="146.00" y="342.14" font-size="3.8" text-anchor="end" fill="#b6b9bb">void</text>
<circle cx="51.50" cy="347.66" r="2.1" fill="#c4687c"/>
<rect x="50.40" y="347.11" width="2.2" height="1.1" fill="#2b2b2b" fill-opacity=".4"/>
<rect x="55.25" y="347.31" width="1.9" height="1.5" fill="#dd6330"/><path d="M55.70 347.36v-.45a.5 .5 0 0 1 1 0v.45" fill="none" stroke="#dd6330" stroke-width=".38"/>
<text transform="rotate(.03 59.00 348.96)" x="59.00" y="348.96" font-size="3.8" text-anchor="start" fill="#b6b9bb">moveDownFromConToListA(int)</text>
<text transform="rotate(.03 146.00 348.96)" x="146.00" y="348.96" font-size="3.8" text-anchor="end" fill="#b6b9bb">void</text>
<circle cx="51.50" cy="354.49" r="2.1" fill="#c4687c"/>
<rect x="50.40" y="353.94" width="2.2" height="1.1" fill="#2b2b2b" fill-opacity=".4"/>
<rect x="55.25" y="354.14" width="1.9" height="1.5" fill="#dd6330"/><path d="M55.70 354.19v-.45a.5 .5 0 0 1 1 0v.45" fill="none" stroke="#dd6330" stroke-width=".38"/>
<text transform="rotate(.03 59.00 355.79)" x="59.00" y="355.79" font-size="3.8" text-anchor="start" fill="#b6b9bb">moveUpFromConToListB(int)</text>
<text transform="rotate(.03 146.00 355.79)" x="146.00" y="355.79" font-size="3.8" text-anchor="end" fill="#b6b9bb">void</text>
<circle cx="51.50" cy="361.31" r="2.1" fill="#c4687c"/>
<rect x="50.40" y="360.76" width="2.2" height="1.1" fill="#2b2b2b" fill-opacity=".4"/>
<rect x="55.25" y="360.96" width="1.9" height="1.5" fill="#dd6330"/><path d="M55.70 361.01v-.45a.5 .5 0 0 1 1 0v.45" fill="none" stroke="#dd6330" stroke-width=".38"/>
<text transform="rotate(.03 59.00 362.61)" x="59.00" y="362.61" font-size="3.8" text-anchor="start" fill="#b6b9bb">moveDownFromConToListB(int)</text>
<text transform="rotate(.03 146.00 362.61)" x="146.00" y="362.61" font-size="3.8" text-anchor="end" fill="#b6b9bb">void</text>
<circle cx="51.50" cy="368.14" r="2.1" fill="#c4687c"/>
<rect x="50.40" y="367.59" width="2.2" height="1.1" fill="#2b2b2b" fill-opacity=".4"/>
<rect x="55.25" y="367.79" width="1.9" height="1.5" fill="#dd6330"/><path d="M55.70 367.84v-.45a.5 .5 0 0 1 1 0v.45" fill="none" stroke="#dd6330" stroke-width=".38"/>
<text transform="rotate(.03 59.00 369.44)" x="59.00" y="369.44" font-size="3.8" text-anchor="start" fill="#b6b9bb">moveUpFromConToListC(int)</text>
<text transform="rotate(.03 146.00 369.44)" x="146.00" y="369.44" font-size="3.8" text-anchor="end" fill="#b6b9bb">void</text>
<circle cx="51.50" cy="374.96" r="2.1" fill="#c4687c"/>
<rect x="50.40" y="374.41" width="2.2" height="1.1" fill="#2b2b2b" fill-opacity=".4"/>
<rect x="55.25" y="374.61" width="1.9" height="1.5" fill="#dd6330"/><path d="M55.70 374.66v-.45a.5 .5 0 0 1 1 0v.45" fill="none" stroke="#dd6330" stroke-width=".38"/>
<text transform="rotate(.03 59.00 376.26)" x="59.00" y="376.26" font-size="3.8" text-anchor="start" fill="#b6b9bb">moveDownFromConToListC(int)</text>
<text transform="rotate(.03 146.00 376.26)" x="146.00" y="376.26" font-size="3.8" text-anchor="end" fill="#b6b9bb">void</text>
<circle cx="51.50" cy="381.79" r="2.1" fill="#c4687c"/>
<rect x="50.40" y="381.24" width="2.2" height="1.1" fill="#2b2b2b" fill-opacity=".4"/>
<path d="M55.20 380.49l.7 0 0 1 1.3 0 0 1.5-2 0z" fill="#62a83a"/>
<text transform="rotate(.03 59.00 383.09)" x="59.00" y="383.09" font-size="3.8" text-anchor="start" fill="#b6b9bb">moveDownFromConToList(int)</text>
<text transform="rotate(.03 146.00 383.09)" x="146.00" y="383.09" font-size="3.8" text-anchor="end" fill="#b6b9bb">void</text>
<circle cx="51.50" cy="388.61" r="2.1" fill="#c4687c"/>
<rect x="50.40" y="388.06" width="2.2" height="1.1" fill="#2b2b2b" fill-opacity=".4"/>
<path d="M55.20 387.31l.7 0 0 1 1.3 0 0 1.5-2 0z" fill="#62a83a"/>
<text transform="rotate(.03 59.00 389.91)" x="59.00" y="389.91" font-size="3.8" text-anchor="start" fill="#b6b9bb">getAllRequestA()</text>
<text transform="rotate(.03 146.00 389.91)" x="146.00" y="389.91" font-size="3.8" text-anchor="end" fill="#b6b9bb">boolean</text>
<circle cx="51.50" cy="395.44" r="2.1" fill="#c4687c"/>
<rect x="50.40" y="394.89" width="2.2" height="1.1" fill="#2b2b2b" fill-opacity=".4"/>
<path d="M55.20 394.14l.7 0 0 1 1.3 0 0 1.5-2 0z" fill="#62a83a"/>
<text transform="rotate(.03 59.00 396.74)" x="59.00" y="396.74" font-size="3.8" text-anchor="start" fill="#b6b9bb">getAllRequestB()</text>
<text transform="rotate(.03 146.00 396.74)" x="146.00" y="396.74" font-size="3.8" text-anchor="end" fill="#b6b9bb">boolean</text>
<circle cx="51.50" cy="402.26" r="2.1" fill="#c4687c"/>
<rect x="50.40" y="401.71" width="2.2" height="1.1" fill="#2b2b2b" fill-opacity=".4"/>
<path d="M55.20 400.96l.7 0 0 1 1.3 0 0 1.5-2 0z" fill="#62a83a"/>
<text transform="rotate(.03 59.00 403.56)" x="59.00" y="403.56" font-size="3.8" text-anchor="start" fill="#b6b9bb">getAllRequestC()</text>
<text transform="rotate(.03 146.00 403.56)" x="146.00" y="403.56" font-size="3.8" text-anchor="end" fill="#b6b9bb">boolean</text>
<circle cx="51.50" cy="409.09" r="2.1" fill="#c4687c"/>
<rect x="50.40" y="408.54" width="2.2" height="1.1" fill="#2b2b2b" fill-opacity=".4"/>
<path d="M55.20 407.79l.7 0 0 1 1.3 0 0 1.5-2 0z" fill="#62a83a"/>
<text transform="rotate(.03 59.00 410.39)" x="59.00" y="410.39" font-size="3.8" text-anchor="start" fill="#b6b9bb">getContainANum()</text>
<text transform="rotate(.03 146.00 410.39)" x="146.00" y="410.39" font-size="3.8" text-anchor="end" fill="#b6b9bb">int</text>
<circle cx="51.50" cy="415.91" r="2.1" fill="#c4687c"/>
<rect x="50.40" y="415.36" width="2.2" height="1.1" fill="#2b2b2b" fill-opacity=".4"/>
<path d="M55.20 414.61l.7 0 0 1 1.3 0 0 1.5-2 0z" fill="#62a83a"/>
<text transform="rotate(.03 59.00 417.21)" x="59.00" y="417.21" font-size="3.8" text-anchor="start" fill="#b6b9bb">getContainBNum()</text>
<text transform="rotate(.03 146.00 417.21)" x="146.00" y="417.21" font-size="3.8" text-anchor="end" fill="#b6b9bb">int</text>
<circle cx="51.50" cy="422.74" r="2.1" fill="#c4687c"/>
<rect x="50.40" y="422.19" width="2.2" height="1.1" fill="#2b2b2b" fill-opacity=".4"/>
<path d="M55.20 421.44l.7 0 0 1 1.3 0 0 1.5-2 0z" fill="#62a83a"/>
<text transform="rotate(.03 59.00 424.04)" x="59.00" y="424.04" font-size="3.8" text-anchor="start" fill="#b6b9bb">getContainCNum()</text>
<text transform="rotate(.03 146.00 424.04)" x="146.00" y="424.04" font-size="3.8" text-anchor="end" fill="#b6b9bb">int</text>
<circle cx="51.50" cy="429.56" r="2.1" fill="#c4687c"/>
<rect x="50.40" y="429.01" width="2.2" height="1.1" fill="#2b2b2b" fill-opacity=".4"/>
<path d="M55.20 428.26l.7 0 0 1 1.3 0 0 1.5-2 0z" fill="#62a83a"/>
<text transform="rotate(.03 59.00 430.86)" x="59.00" y="430.86" font-size="3.8" text-anchor="start" fill="#b6b9bb">getUpRequestListA()</text>
<text transform="rotate(.03 146.00 430.86)" x="146.00" y="430.86" font-size="3.8" text-anchor="end" fill="#b6b9bb">ArrayList&lt;Request&gt;</text>
<circle cx="51.50" cy="436.39" r="2.1" fill="#c4687c"/>
<rect x="50.40" y="435.84" width="2.2" height="1.1" fill="#2b2b2b" fill-opacity=".4"/>
<path d="M55.20 435.09l.7 0 0 1 1.3 0 0 1.5-2 0z" fill="#62a83a"/>
<text transform="rotate(.03 59.00 437.69)" x="59.00" y="437.69" font-size="3.8" text-anchor="start" fill="#b6b9bb">getDownRequestListA()</text>
<text transform="rotate(.03 146.00 437.69)" x="146.00" y="437.69" font-size="3.8" text-anchor="end" fill="#b6b9bb">ArrayList&lt;Request&gt;</text>
<circle cx="51.50" cy="443.21" r="2.1" fill="#c4687c"/>
<rect x="50.40" y="442.66" width="2.2" height="1.1" fill="#2b2b2b" fill-opacity=".4"/>
<path d="M55.20 441.91l.7 0 0 1 1.3 0 0 1.5-2 0z" fill="#62a83a"/>
<text transform="rotate(.03 59.00 444.51)" x="59.00" y="444.51" font-size="3.8" text-anchor="start" fill="#b6b9bb">getUpRequestListB()</text>
<text transform="rotate(.03 146.00 444.51)" x="146.00" y="444.51" font-size="3.8" text-anchor="end" fill="#b6b9bb">ArrayList&lt;Request&gt;</text>
<circle cx="51.50" cy="450.04" r="2.1" fill="#c4687c"/>
<rect x="50.40" y="449.49" width="2.2" height="1.1" fill="#2b2b2b" fill-opacity=".4"/>
<path d="M55.20 448.74l.7 0 0 1 1.3 0 0 1.5-2 0z" fill="#62a83a"/>
<text transform="rotate(.03 59.00 451.34)" x="59.00" y="451.34" font-size="3.8" text-anchor="start" fill="#b6b9bb">getDownRequestListB()</text>
<text transform="rotate(.03 146.00 451.34)" x="146.00" y="451.34" font-size="3.8" text-anchor="end" fill="#b6b9bb">ArrayList&lt;Request&gt;</text>
<circle cx="51.50" cy="456.86" r="2.1" fill="#c4687c"/>
<rect x="50.40" y="456.31" width="2.2" height="1.1" fill="#2b2b2b" fill-opacity=".4"/>
<path d="M55.20 455.56l.7 0 0 1 1.3 0 0 1.5-2 0z" fill="#62a83a"/>
<text transform="rotate(.03 59.00 458.16)" x="59.00" y="458.16" font-size="3.8" text-anchor="start" fill="#b6b9bb">getUpRequestListC()</text>
<text transform="rotate(.03 146.00 458.16)" x="146.00" y="458.16" font-size="3.8" text-anchor="end" fill="#b6b9bb">ArrayList&lt;Request&gt;</text>
<circle cx="51.50" cy="463.69" r="2.1" fill="#c4687c"/>
<rect x="50.40" y="463.14" width="2.2" height="1.1" fill="#2b2b2b" fill-opacity=".4"/>
<path d="M55.20 462.39l.7 0 0 1 1.3 0 0 1.5-2 0z" fill="#62a83a"/>
<text transform="rotate(.03 59.00 464.99)" x="59.00" y="464.99" font-size="3.8" text-anchor="start" fill="#b6b9bb">getDownRequestListC()</text>
<text transform="rotate(.03 146.00 464.99)" x="146.00" y="464.99" font-size="3.8" text-anchor="end" fill="#b6b9bb">ArrayList&lt;Request&gt;</text>
<circle cx="51.50" cy="470.51" r="2.1" fill="#c4687c"/>
<rect x="50.40" y="469.96" width="2.2" height="1.1" fill="#2b2b2b" fill-opacity=".4"/>
<path d="M55.20 469.21l.7 0 0 1 1.3 0 0 1.5-2 0z" fill="#62a83a"/>
<text transform="rotate(.03 59.00 471.81)" x="59.00" y="471.81" font-size="3.8" text-anchor="start" fill="#b6b9bb">getRequestListANum()</text>
<text transform="rotate(.03 146.00 471.81)" x="146.00" y="471.81" font-size="3.8" text-anchor="end" fill="#b6b9bb">int</text>
<circle cx="51.50" cy="477.34" r="2.1" fill="#c4687c"/>
<rect x="50.40" y="476.79" width="2.2" height="1.1" fill="#2b2b2b" fill-opacity=".4"/>
<path d="M55.20 476.04l.7 0 0 1 1.3 0 0 1.5-2 0z" fill="#62a83a"/>
<text transform="rotate(.03 59.00 478.64)" x="59.00" y="478.64" font-size="3.8" text-anchor="start" fill="#b6b9bb">getRequestListBNum()</text>
<text transform="rotate(.03 146.00 478.64)" x="146.00" y="478.64" font-size="3.8" text-anchor="end" fill="#b6b9bb">int</text>
<circle cx="51.50" cy="484.16" r="2.1" fill="#c4687c"/>
<rect x="50.40" y="483.61" width="2.2" height="1.1" fill="#2b2b2b" fill-opacity=".4"/>
<path d="M55.20 482.86l.7 0 0 1 1.3 0 0 1.5-2 0z" fill="#62a83a"/>
<text transform="rotate(.03 59.00 485.46)" x="59.00" y="485.46" font-size="3.8" text-anchor="start" fill="#b6b9bb">getRequestListCNum()</text>
<text transform="rotate(.03 146.00 485.46)" x="146.00" y="485.46" font-size="3.8" text-anchor="end" fill="#b6b9bb">int</text>
<circle cx="51.50" cy="490.99" r="2.1" fill="#c4687c"/>
<rect x="50.40" y="490.44" width="2.2" height="1.1" fill="#2b2b2b" fill-opacity=".4"/>
<path d="M55.20 489.69l.7 0 0 1 1.3 0 0 1.5-2 0z" fill="#62a83a"/>
<text transform="rotate(.03 59.00 492.29)" x="59.00" y="492.29" font-size="3.8" text-anchor="start" fill="#b6b9bb">addIndex()</text>
<text transform="rotate(.03 146.00 492.29)" x="146.00" y="492.29" font-size="3.8" text-anchor="end" fill="#b6b9bb">void</text>
<circle cx="51.50" cy="497.81" r="2.1" fill="#c4687c"/>
<rect x="50.40" y="497.26" width="2.2" height="1.1" fill="#2b2b2b" fill-opacity=".4"/>
<path d="M55.20 496.51l.7 0 0 1 1.3 0 0 1.5-2 0z" fill="#62a83a"/>
<text transform="rotate(.03 59.00 499.11)" x="59.00" y="499.11" font-size="3.8" text-anchor="start" fill="#b6b9bb">getIndex()</text>
<text transform="rotate(.03 146.00 499.11)" x="146.00" y="499.11" font-size="3.8" text-anchor="end" fill="#b6b9bb">int</text>
<circle cx="51.50" cy="504.64" r="2.1" fill="#c4687c"/>
<rect x="50.40" y="504.09" width="2.2" height="1.1" fill="#2b2b2b" fill-opacity=".4"/>
<path d="M55.20 503.34l.7 0 0 1 1.3 0 0 1.5-2 0z" fill="#62a83a"/>
<text transform="rotate(.03 59.00 505.94)" x="59.00" y="505.94" font-size="3.8" text-anchor="start" fill="#b6b9bb">getUpContainA()</text>
<text transform="rotate(.03 146.00 505.94)" x="146.00" y="505.94" font-size="3.8" text-anchor="end" fill="#b6b9bb">ArrayList&lt;PersonRequest&gt;</text>
<circle cx="51.50" cy="511.46" r="2.1" fill="#c4687c"/>
<rect x="50.40" y="510.91" width="2.2" height="1.1" fill="#2b2b2b" fill-opacity=".4"/>
<path d="M55.20 510.16l.7 0 0 1 1.3 0 0 1.5-2 0z" fill="#62a83a"/>
<text transform="rotate(.03 59.00 512.76)" x="59.00" y="512.76" font-size="3.8" text-anchor="start" fill="#b6b9bb">getDownContainA()</text>
<text transform="rotate(.03 146.00 512.76)" x="146.00" y="512.76" font-size="3.8" text-anchor="end" fill="#b6b9bb">ArrayList&lt;PersonRequest&gt;</text>
<circle cx="51.50" cy="518.29" r="2.1" fill="#c4687c"/>
<rect x="50.40" y="517.74" width="2.2" height="1.1" fill="#2b2b2b" fill-opacity=".4"/>
<path d="M55.20 516.99l.7 0 0 1 1.3 0 0 1.5-2 0z" fill="#62a83a"/>
<text transform="rotate(.03 59.00 519.59)" x="59.00" y="519.59" font-size="3.8" text-anchor="start" fill="#b6b9bb">getUpContainB()</text>
<text transform="rotate(.03 146.00 519.59)" x="146.00" y="519.59" font-size="3.8" text-anchor="end" fill="#b6b9bb">ArrayList&lt;PersonRequest&gt;</text>
<circle cx="51.50" cy="525.11" r="2.1" fill="#c4687c"/>
<rect x="50.40" y="524.56" width="2.2" height="1.1" fill="#2b2b2b" fill-opacity=".4"/>
<path d="M55.20 523.81l.7 0 0 1 1.3 0 0 1.5-2 0z" fill="#62a83a"/>
<text transform="rotate(.03 59.00 526.41)" x="59.00" y="526.41" font-size="3.8" text-anchor="start" fill="#b6b9bb">getDownContainB()</text>
<text transform="rotate(.03 146.00 526.41)" x="146.00" y="526.41" font-size="3.8" text-anchor="end" fill="#b6b9bb">ArrayList&lt;PersonRequest&gt;</text>
<circle cx="51.50" cy="531.94" r="2.1" fill="#c4687c"/>
<rect x="50.40" y="531.39" width="2.2" height="1.1" fill="#2b2b2b" fill-opacity=".4"/>
<path d="M55.20 530.64l.7 0 0 1 1.3 0 0 1.5-2 0z" fill="#62a83a"/>
<text transform="rotate(.03 59.00 533.24)" x="59.00" y="533.24" font-size="3.8" text-anchor="start" fill="#b6b9bb">getUpContainC()</text>
<text transform="rotate(.03 146.00 533.24)" x="146.00" y="533.24" font-size="3.8" text-anchor="end" fill="#b6b9bb">ArrayList&lt;PersonRequest&gt;</text>
<circle cx="51.50" cy="538.76" r="2.1" fill="#c4687c"/>
<rect x="50.40" y="538.21" width="2.2" height="1.1" fill="#2b2b2b" fill-opacity=".4"/>
<path d="M55.20 537.46l.7 0 0 1 1.3 0 0 1.5-2 0z" fill="#62a83a"/>
<text transform="rotate(.03 59.00 540.06)" x="59.00" y="540.06" font-size="3.8" text-anchor="start" fill="#b6b9bb">getDownContainC()</text>
<text transform="rotate(.03 146.00 540.06)" x="146.00" y="540.06" font-size="3.8" text-anchor="end" fill="#b6b9bb">ArrayList&lt;PersonRequest&gt;</text>
<rect x="245.40" y="348.70" width="65.30" height="23.80" fill="#202020" fill-opacity=".5"/>
<rect x="246.20" y="348.90" width="63.70" height="22.80" fill="#484949"/>
<rect x="247.10" y="357.30" width="61.90" height="13.50" fill="#3c3f41"/>
<rect x="246.70" y="349.20" width="62.70" height="8.10" fill="url(#hg)"/>
<circle cx="250.50" cy="353.20" r="2.1" fill="#3a8fb5"/>
<path d="M251.30 352.40a1.1 1.1 0 1 0 0 1.6" fill="none" stroke="#2b2b2b" stroke-opacity=".5" stroke-width=".55"/>
<path d="M254.20 351.90l.7 0 0 1 1.3 0 0 1.5-2 0z" fill="#62a83a"/>
<text transform="rotate(.03 258.40 354.55)" x="258.40" y="354.55" font-size="3.85" text-anchor="start" fill="#aeb1b3">LockOutput</text>
<line x1="246.20" x2="309.90" y1="357.40" y2="357.40" stroke="#676b6d" stroke-width=".55"/>
<circle cx="250.50" cy="360.90" r="2.1" fill="#c8983c"/>
<rect x="250.20" y="359.80" width=".6" height="2.2" fill="#2b2b2b" fill-opacity=".5"/>
<rect x="248.10" y="361.70" width="1.6" height="1.4" fill="#3c3f41"/><rect x="248.20" y="362.20" width="1.2" height=".7" fill="#c8c8c8"/>
<rect x="254.25" y="360.55" width="1.9" height="1.5" fill="#dd6330"/><path d="M254.70 360.60v-.45a.5 .5 0 0 1 1 0v.45" fill="none" stroke="#dd6330" stroke-width=".38"/>
<text transform="rotate(.03 258.00 362.20)" x="258.00" y="362.20" font-size="3.8" text-anchor="start" fill="#b6b9bb">lockOutput</text>
<text transform="rotate(.03 308.00 362.20)" x="308.00" y="362.20" font-size="3.8" text-anchor="end" fill="#b6b9bb">LockOutput</text>
<line x1="246.20" x2="309.90" y1="364.60" y2="364.60" stroke="#676b6d" stroke-width=".55"/>
<circle cx="250.50" cy="368.10" r="2.1" fill="#c4687c"/>
<rect x="249.40" y="367.55" width="2.2" height="1.1" fill="#2b2b2b" fill-opacity=".4"/>
<rect x="248.10" y="368.90" width="1.6" height="1.4" fill="#3c3f41"/><rect x="248.20" y="369.40" width="1.2" height=".7" fill="#c8c8c8"/>
<path d="M254.20 366.80l.7 0 0 1 1.3 0 0 1.5-2 0z" fill="#62a83a"/>
<text transform="rotate(.03 258.00 369.40)" x="258.00" y="369.40" font-size="3.8" text-anchor="start" fill="#b6b9bb">getInstance()</text>
<text transform="rotate(.03 308.00 369.40)" x="308.00" y="369.40" font-size="3.8" text-anchor="end" fill="#b6b9bb">LockOutput</text>
<rect x="344.40" y="355.80" width="29.40" height="9.50" fill="#202020" fill-opacity=".5"/>
<rect x="345.20" y="356.00" width="27.80" height="8.50" fill="#484949"/>
<rect x="346.10" y="364.50" width="26.00" height="-0.90" fill="#3c3f41"/>
<rect x="345.70" y="356.30" width="26.80" height="8.20" fill="url(#hg)"/>
<circle cx="349.50" cy="360.35" r="2.1" fill="#3a8fb5"/>
<path d="M350.30 359.55a1.1 1.1 0 1 0 0 1.6" fill="none" stroke="#2b2b2b" stroke-opacity=".5" stroke-width=".55"/>
<path d="M353.20 359.05l.7 0 0 1 1.3 0 0 1.5-2 0z" fill="#62a83a"/>
<text transform="rotate(.03 357.40 361.70)" x="357.40" y="361.70" font-size="3.85" text-anchor="start" fill="#aeb1b3">Elevator</text>
<rect x="93.50" y="586.80" width="83.30" height="153.50" fill="#202020" fill-opacity=".5"/>
<rect x="94.30" y="587.00" width="81.70" height="152.50" fill="#484949"/>
<rect x="95.20" y="595.40" width="79.90" height="143.20" fill="#3c3f41"/>
<rect x="94.80" y="587.30" width="80.70" height="8.10" fill="url(#hg)"/>
<circle cx="98.60" cy="591.30" r="2.1" fill="#3a8fb5"/>
<path d="M99.40 590.50a1.1 1.1 0 1 0 0 1.6" fill="none" stroke="#2b2b2b" stroke-opacity=".5" stroke-width=".55"/>
<path d="M102.30 590.00l.7 0 0 1 1.3 0 0 1.5-2 0z" fill="#62a83a"/>
<text transform="rotate(.03 106.50 592.65)" x="106.50" y="592.65" font-size="3.85" text-anchor="start" fill="#aeb1b3">ElevatorB</text>
<line x1="94.30" x2="176.00" y1="595.50" y2="595.50" stroke="#676b6d" stroke-width=".55"/>
<circle cx="98.60" cy="599.01" r="2.1" fill="#c8983c"/>
<rect x="98.30" y="597.91" width=".6" height="2.2" fill="#2b2b2b" fill-opacity=".5"/>
<rect x="102.35" y="598.66" width="1.9" height="1.5" fill="#dd6330"/><path d="M102.80 598.71v-.45a.5 .5 0 0 1 1 0v.45" fill="none" stroke="#dd6330" stroke-width=".38"/>
<text transform="rotate(.03 106.10 600.31)" x="106.10" y="600.31" font-size="3.8" text-anchor="start" fill="#b6b9bb">currentFloor</text>
<text transform="rotate(.03 174.10 600.31)" x="174.10" y="600.31" font-size="3.8" text-anchor="end" fill="#b6b9bb">int</text>
<circle cx="98.60" cy="605.83" r="2.1" fill="#c8983c"/>
<rect x="98.30" y="604.73" width=".6" height="2.2" fill="#2b2b2b" fill-opacity=".5"/>
<rect x="102.35" y="605.48" width="1.9" height="1.5" fill="#dd6330"/><path d="M102.80 605.53v-.45a.5 .5 0 0 1 1 0v.45" fill="none" stroke="#dd6330" stroke-width=".38"/>
<text transform="rotate(.03 106.10 607.13)" x="106.10" y="607.13" font-size="3.8" text-anchor="start" fill="#b6b9bb">heading</text>
<text transform="rotate(.03 174.10 607.13)" x="174.10" y="607.13" font-size="3.8" text-anchor="end" fill="#b6b9bb">int</text>
<circle cx="98.60" cy="612.66" r="2.1" fill="#c8983c"/>
<rect x="98.30" y="611.56" width=".6" height="2.2" fill="#2b2b2b" fill-opacity=".5"/>
<rect x="102.35" y="612.31" width="1.9" height="1.5" fill="#dd6330"/><path d="M102.80 612.36v-.45a.5 .5 0 0 1 1 0v.45" fill="none" stroke="#dd6330" stroke-width=".38"/>
<text transform="rotate(.03 106.10 613.96)" x="106.10" y="613.96" font-size="3.8" text-anchor="start" fill="#b6b9bb">flag</text>
<text transform="rotate(.03 174.10 613.96)" x="174.10" y="613.96" font-size="3.8" text-anchor="end" fill="#b6b9bb">int</text>
<circle cx="98.60" cy="619.48" r="2.1" fill="#c8983c"/>
<rect x="98.30" y="618.38" width=".6" height="2.2" fill="#2b2b2b" fill-opacity=".5"/>
<rect x="102.35" y="619.13" width="1.9" height="1.5" fill="#dd6330"/><path d="M102.80 619.18v-.45a.5 .5 0 0 1 1 0v.45" fill="none" stroke="#dd6330" stroke-width=".38"/>
<text transform="rotate(.03 106.10 620.78)" x="106.10" y="620.78" font-size="3.8" text-anchor="start" fill="#b6b9bb">insideRequest</text>
<text transform="rotate(.03 174.10 620.78)" x="174.10" y="620.78" font-size="3.8" text-anchor="end" fill="#b6b9bb">ArrayList&lt;Request&gt;</text>
<circle cx="98.60" cy="626.31" r="2.1" fill="#c8983c"/>
<rect x="98.30" y="625.21" width=".6" height="2.2" fill="#2b2b2b" fill-opacity=".5"/>
<rect x="102.35" y="625.96" width="1.9" height="1.5" fill="#dd6330"/><path d="M102.80 626.01v-.45a.5 .5 0 0 1 1 0v.45" fill="none" stroke="#dd6330" stroke-width=".38"/>
<text transform="rotate(.03 106.10 627.61)" x="106.10" y="627.61" font-size="3.8" text-anchor="start" fill="#b6b9bb">insideRequestIO</text>
<text transform="rotate(.03 174.10 627.61)" x="174.10" y="627.61" font-size="3.8" text-anchor="end" fill="#b6b9bb">ArrayList&lt;Request&gt;</text>
<circle cx="98.60" cy="633.13" r="2.1" fill="#c8983c"/>
<rect x="98.30" y="632.03" width=".6" height="2.2" fill="#2b2b2b" fill-opacity=".5"/>
<rect x="102.35" y="632.78" width="1.9" height="1.5" fill="#dd6330"/><path d="M102.80 632.83v-.45a.5 .5 0 0 1 1 0v.45" fill="none" stroke="#dd6330" stroke-width=".38"/>
<text transform="rotate(.03 106.10 634.43)" x="106.10" y="634.43" font-size="3.8" text-anchor="start" fill="#b6b9bb">speed</text>
<text transform="rotate(.03 174.10 634.43)" x="174.10" y="634.43" font-size="3.8" text-anchor="end" fill="#b6b9bb">int</text>
<circle cx="98.60" cy="639.96" r="2.1" fill="#c8983c"/>
<rect x="98.30" y="638.86" width=".6" height="2.2" fill="#2b2b2b" fill-opacity=".5"/>
<rect x="102.35" y="639.61" width="1.9" height="1.5" fill="#dd6330"/><path d="M102.80 639.66v-.45a.5 .5 0 0 1 1 0v.45" fill="none" stroke="#dd6330" stroke-width=".38"/>
<text transform="rotate(.03 106.10 641.26)" x="106.10" y="641.26" font-size="3.8" text-anchor="start" fill="#b6b9bb">openDoor</text>
<text transform="rotate(.03 174.10 641.26)" x="174.10" y="641.26" font-size="3.8" text-anchor="end" fill="#b6b9bb">int</text>
<circle cx="98.60" cy="646.78" r="2.1" fill="#c8983c"/>
<rect x="98.30" y="645.68" width=".6" height="2.2" fill="#2b2b2b" fill-opacity=".5"/>
<rect x="102.35" y="646.43" width="1.9" height="1.5" fill="#dd6330"/><path d="M102.80 646.48v-.45a.5 .5 0 0 1 1 0v.45" fill="none" stroke="#dd6330" stroke-width=".38"/>
<text transform="rotate(.03 106.10 648.08)" x="106.10" y="648.08" font-size="3.8" text-anchor="start" fill="#b6b9bb">closeDoor</text>
<text transform="rotate(.03 174.10 648.08)" x="174.10" y="648.08" font-size="3.8" text-anchor="end" fill="#b6b9bb">int</text>
<circle cx="98.60" cy="653.61" r="2.1" fill="#c8983c"/>
<rect x="98.30" y="652.51" width=".6" height="2.2" fill="#2b2b2b" fill-opacity=".5"/>
<rect x="102.35" y="653.26" width="1.9" height="1.5" fill="#dd6330"/><path d="M102.80 653.31v-.45a.5 .5 0 0 1 1 0v.45" fill="none" stroke="#dd6330" stroke-width=".38"/>
<text transform="rotate(.03 106.10 654.91)" x="106.10" y="654.91" font-size="3.8" text-anchor="start" fill="#b6b9bb">maxPerson</text>
<text transform="rotate(.03 174.10 654.91)" x="174.10" y="654.91" font-size="3.8" text-anchor="end" fill="#b6b9bb">int</text>
<line x1="94.30" x2="176.00" y1="657.31" y2="657.31" stroke="#676b6d" stroke-width=".55"/>
<circle cx="98.60" cy="660.82" r="2.1" fill="#c4687c"/>
<rect x="97.50" y="660.27" width="2.2" height="1.1" fill="#2b2b2b" fill-opacity=".4"/>
<rect x="102.35" y="660.47" width="1.9" height="1.5" fill="#dd6330"/><path d="M102.80 660.52v-.45a.5 .5 0 0 1 1 0v.45" fill="none" stroke="#dd6330" stroke-width=".38"/>
<text transform="rotate(.03 106.10 662.12)" x="106.10" y="662.12" font-size="3.8" text-anchor="start" fill="#b6b9bb">getMainRequest()</text>
<text transform="rotate(.03 174.10 662.12)" x="174.10" y="662.12" font-size="3.8" text-anchor="end" fill="#b6b9bb">Request</text>
<circle cx="98.60" cy="667.64" r="2.1" fill="#c4687c"/>
<rect x="97.50" y="667.09" width="2.2" height="1.1" fill="#2b2b2b" fill-opacity=".4"/>
<rect x="102.35" y="667.29" width="1.9" height="1.5" fill="#dd6330"/><path d="M102.80 667.34v-.45a.5 .5 0 0 1 1 0v.45" fill="none" stroke="#dd6330" stroke-width=".38"/>
<text transform="rotate(.03 106.10 668.94)" x="106.10" y="668.94" font-size="3.8" text-anchor="start" fill="#b6b9bb">getMainRequestIO()</text>
<text transform="rotate(.03 174.10 668.94)" x="174.10" y="668.94" font-size="3.8" text-anchor="end" fill="#b6b9bb">Request</text>
<circle cx="98.60" cy="674.47" r="2.1" fill="#c4687c"/>
<rect x="97.50" y="673.92" width="2.2" height="1.1" fill="#2b2b2b" fill-opacity=".4"/>
<rect x="102.35" y="674.12" width="1.9" height="1.5" fill="#dd6330"/><path d="M102.80 674.17v-.45a.5 .5 0 0 1 1 0v.45" fill="none" stroke="#dd6330" stroke-width=".38"/>
<text transform="rotate(.03 106.10 675.77)" x="106.10" y="675.77" font-size="3.8" text-anchor="start" fill="#b6b9bb">runToFromFloorAndSub(int)</text>
<text transform="rotate(.03 174.10 675.77)" x="174.10" y="675.77" font-size="3.8" text-anchor="end" fill="#b6b9bb">void</text>
<circle cx="98.60" cy="681.29" r="2.1" fill="#c4687c"/>
<rect x="97.50" y="680.74" width="2.2" height="1.1" fill="#2b2b2b" fill-opacity=".4"/>
<rect x="102.35" y="680.94" width="1.9" height="1.5" fill="#dd6330"/><path d="M102.80 680.99v-.45a.5 .5 0 0 1 1 0v.45" fill="none" stroke="#dd6330" stroke-width=".38"/>
<text transform="rotate(.03 106.10 682.59)" x="106.10" y="682.59" font-size="3.8" text-anchor="start" fill="#b6b9bb">getSubUpRequestIn1(int)</text>
<text transform="rotate(.03 174.10 682.59)" x="174.10" y="682.59" font-size="3.8" text-anchor="end" fill="#b6b9bb">void</text>
<circle cx="98.60" cy="688.12" r="2.1" fill="#c4687c"/>
<rect x="97.50" y="687.57" width="2.2" height="1.1" fill="#2b2b2b" fill-opacity=".4"/>
<rect x="102.35" y="687.77" width="1.9" height="1.5" fill="#dd6330"/><path d="M102.80 687.82v-.45a.5 .5 0 0 1 1 0v.45" fill="none" stroke="#dd6330" stroke-width=".38"/>
<text transform="rotate(.03 106.10 689.42)" x="106.10" y="689.42" font-size="3.8" text-anchor="start" fill="#b6b9bb">getSubDownRequestIn1(int)</text>
<text transform="rotate(.03 174.10 689.42)" x="174.10" y="689.42" font-size="3.8" text-anchor="end" fill="#b6b9bb">void</text>
<circle cx="98.60" cy="694.94" r="2.1" fill="#c4687c"/>
<rect x="97.50" y="694.39" width="2.2" height="1.1" fill="#2b2b2b" fill-opacity=".4"/>
<rect x="102.35" y="694.59" width="1.9" height="1.5" fill="#dd6330"/><path d="M102.80 694.64v-.45a.5 .5 0 0 1 1 0v.45" fill="none" stroke="#dd6330" stroke-width=".38"/>
<text transform="rotate(.03 106.10 696.24)" x="106.10" y="696.24" font-size="3.8" text-anchor="start" fill="#b6b9bb">requestOut1()</text>
<text transform="rotate(.03 174.10 696.24)" x="174.10" y="696.24" font-size="3.8" text-anchor="end" fill="#b6b9bb">void</text>
<circle cx="98.60" cy="701.77" r="2.1" fill="#c4687c"/>
<rect x="97.50" y="701.22" width="2.2" height="1.1" fill="#2b2b2b" fill-opacity=".4"/>
<rect x="102.35" y="701.42" width="1.9" height="1.5" fill="#dd6330"/><path d="M102.80 701.47v-.45a.5 .5 0 0 1 1 0v.45" fill="none" stroke="#dd6330" stroke-width=".38"/>
<text transform="rotate(.03 106.10 703.07)" x="106.10" y="703.07" font-size="3.8" text-anchor="start" fill="#b6b9bb">getSubUpRequestIn()</text>
<text transform="rotate(.03 174.10 703.07)" x="174.10" y="703.07" font-size="3.8" text-anchor="end" fill="#b6b9bb">void</text>
<circle cx="98.60" cy="708.59" r="2.1" fill="#c4687c"/>
<rect x="97.50" y="708.04" width="2.2" height="1.1" fill="#2b2b2b" fill-opacity=".4"/>
<rect x="102.35" y="708.24" width="1.9" height="1.5" fill="#dd6330"/><path d="M102.80 708.29v-.45a.5 .5 0 0 1 1 0v.45" fill="none" stroke="#dd6330" stroke-width=".38"/>
<text transform="rotate(.03 106.10 709.89)" x="106.10" y="709.89" font-size="3.8" text-anchor="start" fill="#b6b9bb">getSubDownRequestIn()</text>
<text transform="rotate(.03 174.10 709.89)" x="174.10" y="709.89" font-size="3.8" text-anchor="end" fill="#b6b9bb">void</text>
<circle cx="98.60" cy="715.42" r="2.1" fill="#c4687c"/>
<rect x="97.50" y="714.87" width="2.2" height="1.1" fill="#2b2b2b" fill-opacity=".4"/>
<rect x="102.35" y="715.07" width="1.9" height="1.5" fill="#dd6330"/><path d="M102.80 715.12v-.45a.5 .5 0 0 1 1 0v.45" fill="none" stroke="#dd6330" stroke-width=".38"/>
<text transform="rotate(.03 106.10 716.72)" x="106.10" y="716.72" font-size="3.8" text-anchor="start" fill="#b6b9bb">requestOut()</text>
<text transform="rotate(.03 174.10 716.72)" x="174.10" y="716.72" font-size="3.8" text-anchor="end" fill="#b6b9bb">void</text>
<circle cx="98.60" cy="722.24" r="2.1" fill="#c4687c"/>
<rect x="97.50" y="721.69" width="2.2" height="1.1" fill="#2b2b2b" fill-opacity=".4"/>
<rect x="102.35" y="721.89" width="1.9" height="1.5" fill="#dd6330"/><path d="M102.80 721.94v-.45a.5 .5 0 0 1 1 0v.45" fill="none" stroke="#dd6330" stroke-width=".38"/>
<text transform="rotate(.03 106.10 723.54)" x="106.10" y="723.54" font-size="3.8" text-anchor="start" fill="#b6b9bb">goUp()</text>
<text transform="rotate(.03 174.10 723.54)" x="174.10" y="723.54" font-size="3.8" text-anchor="end" fill="#b6b9bb">void</text>
<circle cx="98.60" cy="729.07" r="2.1" fill="#c4687c"/>
<rect x="97.50" y="728.52" width="2.2" height="1.1" fill="#2b2b2b" fill-opacity=".4"/>
<rect x="102.35" y="728.72" width="1.9" height="1.5" fill="#dd6330"/><path d="M102.80 728.77v-.45a.5 .5 0 0 1 1 0v.45" fill="none" stroke="#dd6330" stroke-width=".38"/>
<text transform="rotate(.03 106.10 730.37)" x="106.10" y="730.37" font-size="3.8" text-anchor="start" fill="#b6b9bb">goDown()</text>
<text transform="rotate(.03 174.10 730.37)" x="174.10" y="730.37" font-size="3.8" text-anchor="end" fill="#b6b9bb">void</text>
<circle cx="98.60" cy="735.89" r="2.1" fill="#c4687c"/>
<rect x="97.50" y="735.34" width="2.2" height="1.1" fill="#2b2b2b" fill-opacity=".4"/>
<path d="M102.30 734.59l.7 0 0 1 1.3 0 0 1.5-2 0z" fill="#62a83a"/>
<text transform="rotate(.03 106.10 737.19)" x="106.10" y="737.19" font-size="3.8" text-anchor="start" fill="#b6b9bb">run()</text>
<text transform="rotate(.03 174.10 737.19)" x="174.10" y="737.19" font-size="3.8" text-anchor="end" fill="#b6b9bb">void</text>
<rect x="181.20" y="586.80" width="82.40" height="153.50" fill="#202020" fill-opacity=".5"/>
<rect x="182.00" y="587.00" width="80.80" height="152.50" fill="#484949"/>
<rect x="182.90" y="595.40" width="79.00" height="143.20" fill="#3c3f41"/>
<rect x="182.50" y="587.30" width="79.80" height="8.10" fill="url(#hg)"/>
<circle cx="186.30" cy="591.30" r="2.1" fill="#3a8fb5"/>
<path d="M187.10 590.50a1.1 1.1 0 1 0 0 1.6" fill="none" stroke="#2b2b2b" stroke-opacity=".5" stroke-width=".55"/>
<path d="M190.00 590.00l.7 0 0 1 1.3 0 0 1.5-2 0z" fill="#62a83a"/>
<text transform="rotate(.03 194.20 592.65)" x="194.20" y="592.65" font-size="3.85" text-anchor="start" fill="#aeb1b3">ElevatorA</text>
<line x1="182.00" x2="262.80" y1="595.50" y2="595.50" stroke="#676b6d" stroke-width=".55"/>
<circle cx="186.30" cy="599.01" r="2.1" fill="#c8983c"/>
<rect x="186.00" y="597.91" width=".6" height="2.2" fill="#2b2b2b" fill-opacity=".5"/>
<rect x="190.05" y="598.66" width="1.9" height="1.5" fill="#dd6330"/><path d="M190.50 598.71v-.45a.5 .5 0 0 1 1 0v.45" fill="none" stroke="#dd6330" stroke-width=".38"/>
<text transform="rotate(.03 193.80 600.31)" x="193.80" y="600.31" font-size="3.8" text-anchor="start" fill="#b6b9bb">currentFloor</text>
<text transform="rotate(.03 260.90 600.31)" x="260.90" y="600.31" font-size="3.8" text-anchor="end" fill="#b6b9bb">int</text>
<circle cx="186.30" cy="605.83" r="2.1" fill="#c8983c"/>
<rect x="186.00" y="604.73" width=".6" height="2.2" fill="#2b2b2b" fill-opacity=".5"/>
<rect x="190.05" y="605.48" width="1.9" height="1.5" fill="#dd6330"/><path d="M190.50 605.53v-.45a.5 .5 0 0 1 1 0v.45" fill="none" stroke="#dd6330" stroke-width=".38"/>
<text transform="rotate(.03 193.80 607.13)" x="193.80" y="607.13" font-size="3.8" text-anchor="start" fill="#b6b9bb">heading</text>
<text transform="rotate(.03 260.90 607.13)" x="260.90" y="607.13" font-size="3.8" text-anchor="end" fill="#b6b9bb">int</text>
<circle cx="186.30" cy="612.66" r="2.1" fill="#c8983c"/>
<rect x="186.00" y="611.56" width=".6" height="2.2" fill="#2b2b2b" fill-opacity=".5"/>
<rect x="190.05" y="612.31" width="1.9" height="1.5" fill="#dd6330"/><path d="M190.50 612.36v-.45a.5 .5 0 0 1 1 0v.45" fill="none" stroke="#dd6330" stroke-width=".38"/>
<text transform="rotate(.03 193.80 613.96)" x="193.80" y="613.96" font-size="3.8" text-anchor="start" fill="#b6b9bb">flag</text>
<text transform="rotate(.03 260.90 613.96)" x="260.90" y="613.96" font-size="3.8" text-anchor="end" fill="#b6b9bb">int</text>
<circle cx="186.30" cy="619.48" r="2.1" fill="#c8983c"/>
<rect x="186.00" y="618.38" width=".6" height="2.2" fill="#2b2b2b" fill-opacity=".5"/>
<rect x="190.05" y="619.13" width="1.9" height="1.5" fill="#dd6330"/><path d="M190.50 619.18v-.45a.5 .5 0 0 1 1 0v.45" fill="none" stroke="#dd6330" stroke-width=".38"/>
<text transform="rotate(.03 193.80 620.78)" x="193.80" y="620.78" font-size="3.8" text-anchor="start" fill="#b6b9bb">insideRequest</text>
<text transform="rotate(.03 260.90 620.78)" x="260.90" y="620.78" font-size="3.8" text-anchor="end" fill="#b6b9bb">ArrayList&lt;Request&gt;</text>
<circle cx="186.30" cy="626.31" r="2.1" fill="#c8983c"/>
<rect x="186.00" y="625.21" width=".6" height="2.2" fill="#2b2b2b" fill-opacity=".5"/>
<rect x="190.05" y="625.96" width="1.9" height="1.5" fill="#dd6330"/><path d="M190.50 626.01v-.45a.5 .5 0 0 1 1 0v.45" fill="none" stroke="#dd6330" stroke-width=".38"/>
<text transform="rotate(.03 193.80 627.61)" x="193.80" y="627.61" font-size="3.8" text-anchor="start" fill="#b6b9bb">insideRequestIO</text>
<text transform="rotate(.03 260.90 627.61)" x="260.90" y="627.61" font-size="3.8" text-anchor="end" fill="#b6b9bb">ArrayList&lt;Request&gt;</text>
<circle cx="186.30" cy="633.13" r="2.1" fill="#c8983c"/>
<rect x="186.00" y="632.03" width=".6" height="2.2" fill="#2b2b2b" fill-opacity=".5"/>
<rect x="190.05" y="632.78" width="1.9" height="1.5" fill="#dd6330"/><path d="M190.50 632.83v-.45a.5 .5 0 0 1 1 0v.45" fill="none" stroke="#dd6330" stroke-width=".38"/>
<text transform="rotate(.03 193.80 634.43)" x="193.80" y="634.43" font-size="3.8" text-anchor="start" fill="#b6b9bb">speed</text>
<text transform="rotate(.03 260.90 634.43)" x="260.90" y="634.43" font-size="3.8" text-anchor="end" fill="#b6b9bb">int</text>
<circle cx="186.30" cy="639.96" r="2.1" fill="#c8983c"/>
<rect x="186.00" y="638.86" width=".6" height="2.2" fill="#2b2b2b" fill-opacity=".5"/>
<rect x="190.05" y="639.61" width="1.9" height="1.5" fill="#dd6330"/><path d="M190.50 639.66v-.45a.5 .5 0 0 1 1 0v.45" fill="none" stroke="#dd6330" stroke-width=".38"/>
<text transform="rotate(.03 193.80 641.26)" x="193.80" y="641.26" font-size="3.8" text-anchor="start" fill="#b6b9bb">openDoor</text>
<text transform="rotate(.03 260.90 641.26)" x="260.90" y="641.26" font-size="3.8" text-anchor="end" fill="#b6b9bb">int</text>
<circle cx="186.30" cy="646.78" r="2.1" fill="#c8983c"/>
<rect x="186.00" y="645.68" width=".6" height="2.2" fill="#2b2b2b" fill-opacity=".5"/>
<rect x="190.05" y="646.43" width="1.9" height="1.5" fill="#dd6330"/><path d="M190.50 646.48v-.45a.5 .5 0 0 1 1 0v.45" fill="none" stroke="#dd6330" stroke-width=".38"/>
<text transform="rotate(.03 193.80 648.08)" x="193.80" y="648.08" font-size="3.8" text-anchor="start" fill="#b6b9bb">closeDoor</text>
<text transform="rotate(.03 260.90 648.08)" x="260.90" y="648.08" font-size="3.8" text-anchor="end" fill="#b6b9bb">int</text>
<circle cx="186.30" cy="653.61" r="2.1" fill="#c8983c"/>
<rect x="186.00" y="652.51" width=".6" height="2.2" fill="#2b2b2b" fill-opacity=".5"/>
<rect x="190.05" y="653.26" width="1.9" height="1.5" fill="#dd6330"/><path d="M190.50 653.31v-.45a.5 .5 0 0 1 1 0v.45" fill="none" stroke="#dd6330" stroke-width=".38"/>
<text transform="rotate(.03 193.80 654.91)" x="193.80" y="654.91" font-size="3.8" text-anchor="start" fill="#b6b9bb">maxPerson</text>
<text transform="rotate(.03 260.90 654.91)" x="260.90" y="654.91" font-size="3.8" text-anchor="end" fill="#b6b9bb">int</text>
<line x1="182.00" x2="262.80" y1="657.31" y2="657.31" stroke="#676b6d" stroke-width=".55"/>
<circle cx="186.30" cy="660.82" r="2.1" fill="#c4687c"/>
<rect x="185.20" y="660.27" width="2.2" height="1.1" fill="#2b2b2b" fill-opacity=".4"/>
<rect x="190.05" y="660.47" width="1.9" height="1.5" fill="#dd6330"/><path d="M190.50 660.52v-.45a.5 .5 0 0 1 1 0v.45" fill="none" stroke="#dd6330" stroke-width=".38"/>
<text transform="rotate(.03 193.80 662.12)" x="193.80" y="662.12" font-size="3.8" text-anchor="start" fill="#b6b9bb">getMainRequest()</text>
<text transform="rotate(.03 260.90 662.12)" x="260.90" y="662.12" font-size="3.8" text-anchor="end" fill="#b6b9bb">Request</text>
<circle cx="186.30" cy="667.64" r="2.1" fill="#c4687c"/>
<rect x="185.20" y="667.09" width="2.2" height="1.1" fill="#2b2b2b" fill-opacity=".4"/>
<rect x="190.05" y="667.29" width="1.9" height="1.5" fill="#dd6330"/><path d="M190.50 667.34v-.45a.5 .5 0 0 1 1 0v.45" fill="none" stroke="#dd6330" stroke-width=".38"/>
<text transform="rotate(.03 193.80 668.94)" x="193.80" y="668.94" font-size="3.8" text-anchor="start" fill="#b6b9bb">getMainRequestIO()</text>
<text transform="rotate(.03 260.90 668.94)" x="260.90" y="668.94" font-size="3.8" text-anchor="end" fill="#b6b9bb">Request</text>
<circle cx="186.30" cy="674.47" r="2.1" fill="#c4687c"/>
<rect x="185.20" y="673.92" width="2.2" height="1.1" fill="#2b2b2b" fill-opacity=".4"/>
<rect x="190.05" y="674.12" width="1.9" height="1.5" fill="#dd6330"/><path d="M190.50 674.17v-.45a.5 .5 0 0 1 1 0v.45" fill="none" stroke="#dd6330" stroke-width=".38"/>
<text transform="rotate(.03 193.80 675.77)" x="193.80" y="675.77" font-size="3.8" text-anchor="start" fill="#b6b9bb">runToFromFloorAndSub(int)</text>
<text transform="rotate(.03 260.90 675.77)" x="260.90" y="675.77" font-size="3.8" text-anchor="end" fill="#b6b9bb">void</text>
<circle cx="186.30" cy="681.29" r="2.1" fill="#c4687c"/>
<rect x="185.20" y="680.74" width="2.2" height="1.1" fill="#2b2b2b" fill-opacity=".4"/>
<rect x="190.05" y="680.94" width="1.9" height="1.5" fill="#dd6330"/><path d="M190.50 680.99v-.45a.5 .5 0 0 1 1 0v.45" fill="none" stroke="#dd6330" stroke-width=".38"/>
<text transform="rotate(.03 193.80 682.59)" x="193.80" y="682.59" font-size="3.8" text-anchor="start" fill="#b6b9bb">getSubUpRequestIn1(int)</text>
<text transform="rotate(.03 260.90 682.59)" x="260.90" y="682.59" font-size="3.8" text-anchor="end" fill="#b6b9bb">void</text>
<circle cx="186.30" cy="688.12" r="2.1" fill="#c4687c"/>
<rect x="185.20" y="687.57" width="2.2" height="1.1" fill="#2b2b2b" fill-opacity=".4"/>
<rect x="190.05" y="687.77" width="1.9" height="1.5" fill="#dd6330"/><path d="M190.50 687.82v-.45a.5 .5 0 0 1 1 0v.45" fill="none" stroke="#dd6330" stroke-width=".38"/>
<text transform="rotate(.03 193.80 689.42)" x="193.80" y="689.42" font-size="3.8" text-anchor="start" fill="#b6b9bb">getSubDownRequestIn1(int)</text>
<text transform="rotate(.03 260.90 689.42)" x="260.90" y="689.42" font-size="3.8" text-anchor="end" fill="#b6b9bb">void</text>
<circle cx="186.30" cy="694.94" r="2.1" fill="#c4687c"/>
<rect x="185.20" y="694.39" width="2.2" height="1.1" fill="#2b2b2b" fill-opacity=".4"/>
<rect x="190.05" y="694.59" width="1.9" height="1.5" fill="#dd6330"/><path d="M190.50 694.64v-.45a.5 .5 0 0 1 1 0v.45" fill="none" stroke="#dd6330" stroke-width=".38"/>
<text transform="rotate(.03 193.80 696.24)" x="193.80" y="696.24" font-size="3.8" text-anchor="start" fill="#b6b9bb">requestOut1()</text>
<text transform="rotate(.03 260.90 696.24)" x="260.90" y="696.24" font-size="3.8" text-anchor="end" fill="#b6b9bb">void</text>
<circle cx="186.30" cy="701.77" r="2.1" fill="#c4687c"/>
<rect x="185.20" y="701.22" width="2.2" height="1.1" fill="#2b2b2b" fill-opacity=".4"/>
<rect x="190.05" y="701.42" width="1.9" height="1.5" fill="#dd6330"/><path d="M190.50 701.47v-.45a.5 .5 0 0 1 1 0v.45" fill="none" stroke="#dd6330" stroke-width=".38"/>
<text transform="rotate(.03 193.80 703.07)" x="193.80" y="703.07" font-size="3.8" text-anchor="start" fill="#b6b9bb">getSubUpRequestIn()</text>
<text transform="rotate(.03 260.90 703.07)" x="260.90" y="703.07" font-size="3.8" text-anchor="end" fill="#b6b9bb">void</text>
<circle cx="186.30" cy="708.59" r="2.1" fill="#c4687c"/>
<rect x="185.20" y="708.04" width="2.2" height="1.1" fill="#2b2b2b" fill-opacity=".4"/>
<rect x="190.05" y="708.24" width="1.9" height="1.5" fill="#dd6330"/><path d="M190.50 708.29v-.45a.5 .5 0 0 1 1 0v.45" fill="none" stroke="#dd6330" stroke-width=".38"/>
<text transform="rotate(.03 193.80 709.89)" x="193.80" y="709.89" font-size="3.8" text-anchor="start" fill="#b6b9bb">getSubDownRequestIn()</text>
<text transform="rotate(.03 260.90 709.89)" x="260.90" y="709.89" font-size="3.8" text-anchor="end" fill="#b6b9bb">void</text>
<circle cx="186.30" cy="715.42" r="2.1" fill="#c4687c"/>
<rect x="185.20" y="714.87" width="2.2" height="1.1" fill="#2b2b2b" fill-opacity=".4"/>
<rect x="190.05" y="715.07" width="1.9" height="1.5" fill="#dd6330"/><path d="M190.50 715.12v-.45a.5 .5 0 0 1 1 0v.45" fill="none" stroke="#dd6330" stroke-width=".38"/>
<text transform="rotate(.03 193.80 716.72)" x="193.80" y="716.72" font-size="3.8" text-anchor="start" fill="#b6b9bb">requestOut()</text>
<text transform="rotate(.03 260.90 716.72)" x="260.90" y="716.72" font-size="3.8" text-anchor="end" fill="#b6b9bb">void</text>
<circle cx="186.30" cy="722.24" r="2.1" fill="#c4687c"/>
<rect x="185.20" y="721.69" width="2.2" height="1.1" fill="#2b2b2b" fill-opacity=".4"/>
<rect x="190.05" y="721.89" width="1.9" height="1.5" fill="#dd6330"/><path d="M190.50 721.94v-.45a.5 .5 0 0 1 1 0v.45" fill="none" stroke="#dd6330" stroke-width=".38"/>
<text transform="rotate(.03 193.80 723.54)" x="193.80" y="723.54" font-size="3.8" text-anchor="start" fill="#b6b9bb">goUp()</text>
<text transform="rotate(.03 260.90 723.54)" x="260.90" y="723.54" font-size="3.8" text-anchor="end" fill="#b6b9bb">void</text>
<circle cx="186.30" cy="729.07" r="2.1" fill="#c4687c"/>
<rect x="185.20" y="728.52" width="2.2" height="1.1" fill="#2b2b2b" fill-opacity=".4"/>
<rect x="190.05" y="728.72" width="1.9" height="1.5" fill="#dd6330"/><path d="M190.50 728.77v-.45a.5 .5 0 0 1 1 0v.45" fill="none" stroke="#dd6330" stroke-width=".38"/>
<text transform="rotate(.03 193.80 730.37)" x="193.80" y="730.37" font-size="3.8" text-anchor="start" fill="#b6b9bb">goDown()</text>
<text transform="rotate(.03 260.90 730.37)" x="260.90" y="730.37" font-size="3.8" text-anchor="end" fill="#b6b9bb">void</text>
<circle cx="186.30" cy="735.89" r="2.1" fill="#c4687c"/>
<rect x="185.20" y="735.34" width="2.2" height="1.1" fill="#2b2b2b" fill-opacity=".4"/>
<path d="M190.00 734.59l.7 0 0 1 1.3 0 0 1.5-2 0z" fill="#62a83a"/>
<text transform="rotate(.03 193.80 737.19)" x="193.80" y="737.19" font-size="3.8" text-anchor="start" fill="#b6b9bb">run()</text>
<text transform="rotate(.03 260.90 737.19)" x="260.90" y="737.19" font-size="3.8" text-anchor="end" fill="#b6b9bb">void</text>
<rect x="416.30" y="586.80" width="82.30" height="153.50" fill="#202020" fill-opacity=".5"/>
<rect x="417.10" y="587.00" width="80.70" height="152.50" fill="#484949"/>
<rect x="418.00" y="595.40" width="78.90" height="143.20" fill="#3c3f41"/>
<rect x="417.60" y="587.30" width="79.70" height="8.10" fill="url(#hg)"/>
<circle cx="421.40" cy="591.30" r="2.1" fill="#3a8fb5"/>
<path d="M422.20 590.50a1.1 1.1 0 1 0 0 1.6" fill="none" stroke="#2b2b2b" stroke-opacity=".5" stroke-width=".55"/>
<path d="M425.10 590.00l.7 0 0 1 1.3 0 0 1.5-2 0z" fill="#62a83a"/>
<text transform="rotate(.03 429.30 592.65)" x="429.30" y="592.65" font-size="3.85" text-anchor="start" fill="#aeb1b3">ElevatorC</text>
<line x1="417.10" x2="497.80" y1="595.50" y2="595.50" stroke="#676b6d" stroke-width=".55"/>
<circle cx="421.40" cy="599.01" r="2.1" fill="#c8983c"/>
<rect x="421.10" y="597.91" width=".6" height="2.2" fill="#2b2b2b" fill-opacity=".5"/>
<rect x="425.15" y="598.66" width="1.9" height="1.5" fill="#dd6330"/><path d="M425.60 598.71v-.45a.5 .5 0 0 1 1 0v.45" fill="none" stroke="#dd6330" stroke-width=".38"/>
<text transform="rotate(.03 428.90 600.31)" x="428.90" y="600.31" font-size="3.8" text-anchor="start" fill="#b6b9bb">currentFloor</text>
<text transform="rotate(.03 495.90 600.31)" x="495.90" y="600.31" font-size="3.8" text-anchor="end" fill="#b6b9bb">int</text>
<circle cx="421.40" cy="605.83" r="2.1" fill="#c8983c"/>
<rect x="421.10" y="604.73" width=".6" height="2.2" fill="#2b2b2b" fill-opacity=".5"/>
<rect x="425.15" y="605.48" width="1.9" height="1.5" fill="#dd6330"/><path d="M425.60 605.53v-.45a.5 .5 0 0 1 1 0v.45" fill="none" stroke="#dd6330" stroke-width=".38"/>
<text transform="rotate(.03 428.90 607.13)" x="428.90" y="607.13" font-size="3.8" text-anchor="start" fill="#b6b9bb">heading</text>
<text transform="rotate(.03 495.90 607.13)" x="495.90" y="607.13" font-size="3.8" text-anchor="end" fill="#b6b9bb">int</text>
<circle cx="421.40" cy="612.66" r="2.1" fill="#c8983c"/>
<rect x="421.10" y="611.56" width=".6" height="2.2" fill="#2b2b2b" fill-opacity=".5"/>
<rect x="425.15" y="612.31" width="1.9" height="1.5" fill="#dd6330"/><path d="M425.60 612.36v-.45a.5 .5 0 0 1 1 0v.45" fill="none" stroke="#dd6330" stroke-width=".38"/>
<text transform="rotate(.03 428.90 613.96)" x="428.90" y="613.96" font-size="3.8" text-anchor="start" fill="#b6b9bb">flag</text>
<text transform="rotate(.03 495.90 613.96)" x="495.90" y="613.96" font-size="3.8" text-anchor="end" fill="#b6b9bb">int</text>
<circle cx="421.40" cy="619.48" r="2.1" fill="#c8983c"/>
<rect x="421.10" y="618.38" width=".6" height="2.2" fill="#2b2b2b" fill-opacity=".5"/>
<rect x="425.15" y="619.13" width="1.9" height="1.5" fill="#dd6330"/><path d="M425.60 619.18v-.45a.5 .5 0 0 1 1 0v.45" fill="none" stroke="#dd6330" stroke-width=".38"/>
<text transform="rotate(.03 428.90 620.78)" x="428.90" y="620.78" font-size="3.8" text-anchor="start" fill="#b6b9bb">insideRequest</text>
<text transform="rotate(.03 495.90 620.78)" x="495.90" y="620.78" font-size="3.8" text-anchor="end" fill="#b6b9bb">ArrayList&lt;Request&gt;</text>
<circle cx="421.40" cy="626.31" r="2.1" fill="#c8983c"/>
<rect x="421.10" y="625.21" width=".6" height="2.2" fill="#2b2b2b" fill-opacity=".5"/>
<rect x="425.15" y="625.96" width="1.9" height="1.5" fill="#dd6330"/><path d="M425.60 626.01v-.45a.5 .5 0 0 1 1 0v.45" fill="none" stroke="#dd6330" stroke-width=".38"/>
<text transform="rotate(.03 428.90 627.61)" x="428.90" y="627.61" font-size="3.8" text-anchor="start" fill="#b6b9bb">insideRequestIO</text>
<text transform="rotate(.03 495.90 627.61)" x="495.90" y="627.61" font-size="3.8" text-anchor="end" fill="#b6b9bb">ArrayList&lt;Request&gt;</text>
<circle cx="421.40" cy="633.13" r="2.1" fill="#c8983c"/>
<rect x="421.10" y="632.03" width=".6" height="2.2" fill="#2b2b2b" fill-opacity=".5"/>
<rect x="425.15" y="632.78" width="1.9" height="1.5" fill="#dd6330"/><path d="M425.60 632.83v-.45a.5 .5 0 0 1 1 0v.45" fill="none" stroke="#dd6330" stroke-width=".38"/>
<text transform="rotate(.03 428.90 634.43)" x="428.90" y="634.43" font-size="3.8" text-anchor="start" fill="#b6b9bb">speed</text>
<text transform="rotate(.03 495.90 634.43)" x="495.90" y="634.43" font-size="3.8" text-anchor="end" fill="#b6b9bb">int</text>
<circle cx="421.40" cy="639.96" r="2.1" fill="#c8983c"/>
<rect x="421.10" y="638.86" width=".6" height="2.2" fill="#2b2b2b" fill-opacity=".5"/>
<rect x="425.15" y="639.61" width="1.9" height="1.5" fill="#dd6330"/><path d="M425.60 639.66v-.45a.5 .5 0 0 1 1 0v.45" fill="none" stroke="#dd6330" stroke-width=".38"/>
<text transform="rotate(.03 428.90 641.26)" x="428.90" y="641.26" font-size="3.8" text-anchor="start" fill="#b6b9bb">openDoor</text>
<text transform="rotate(.03 495.90 641.26)" x="495.90" y="641.26" font-size="3.8" text-anchor="end" fill="#b6b9bb">int</text>
<circle cx="421.40" cy="646.78" r="2.1" fill="#c8983c"/>
<rect x="421.10" y="645.68" width=".6" height="2.2" fill="#2b2b2b" fill-opacity=".5"/>
<rect x="425.15" y="646.43" width="1.9" height="1.5" fill="#dd6330"/><path d="M425.60 646.48v-.45a.5 .5 0 0 1 1 0v.45" fill="none" stroke="#dd6330" stroke-width=".38"/>
<text transform="rotate(.03 428.90 648.08)" x="428.90" y="648.08" font-size="3.8" text-anchor="start" fill="#b6b9bb">closeDoor</text>
<text transform="rotate(.03 495.90 648.08)" x="495.90" y="648.08" font-size="3.8" text-anchor="end" fill="#b6b9bb">int</text>
<circle cx="421.40" cy="653.61" r="2.1" fill="#c8983c"/>
<rect x="421.10" y="652.51" width=".6" height="2.2" fill="#2b2b2b" fill-opacity=".5"/>
<rect x="425.15" y="653.26" width="1.9" height="1.5" fill="#dd6330"/><path d="M425.60 653.31v-.45a.5 .5 0 0 1 1 0v.45" fill="none" stroke="#dd6330" stroke-width=".38"/>
<text transform="rotate(.03 428.90 654.91)" x="428.90" y="654.91" font-size="3.8" text-anchor="start" fill="#b6b9bb">maxPerson</text>
<text transform="rotate(.03 495.90 654.91)" x="495.90" y="654.91" font-size="3.8" text-anchor="end" fill="#b6b9bb">int</text>
<line x1="417.10" x2="497.80" y1="657.31" y2="657.31" stroke="#676b6d" stroke-width=".55"/>
<circle cx="421.40" cy="660.82" r="2.1" fill="#c4687c"/>
<rect x="420.30" y="660.27" width="2.2" height="1.1" fill="#2b2b2b" fill-opacity=".4"/>
<rect x="425.15" y="660.47" width="1.9" height="1.5" fill="#dd6330"/><path d="M425.60 660.52v-.45a.5 .5 0 0 1 1 0v.45" fill="none" stroke="#dd6330" stroke-width=".38"/>
<text transform="rotate(.03 428.90 662.12)" x="428.90" y="662.12" font-size="3.8" text-anchor="start" fill="#b6b9bb">getMainRequest()</text>
<text transform="rotate(.03 495.90 662.12)" x="495.90" y="662.12" font-size="3.8" text-anchor="end" fill="#b6b9bb">Request</text>
<circle cx="421.40" cy="667.64" r="2.1" fill="#c4687c"/>
<rect x="420.30" y="667.09" width="2.2" height="1.1" fill="#2b2b2b" fill-opacity=".4"/>
<rect x="425.15" y="667.29" width="1.9" height="1.5" fill="#dd6330"/><path d="M425.60 667.34v-.45a.5 .5 0 0 1 1 0v.45" fill="none" stroke="#dd6330" stroke-width=".38"/>
<text transform="rotate(.03 428.90 668.94)" x="428.90" y="668.94" font-size="3.8" text-anchor="start" fill="#b6b9bb">getMainRequestIO()</text>
<text transform="rotate(.03 495.90 668.94)" x="495.90" y="668.94" font-size="3.8" text-anchor="end" fill="#b6b9bb">Request</text>
<circle cx="421.40" cy="674.47" r="2.1" fill="#c4687c"/>
<rect x="420.30" y="673.92" width="2.2" height="1.1" fill="#2b2b2b" fill-opacity=".4"/>
<rect x="425.15" y="674.12" width="1.9" height="1.5" fill="#dd6330"/><path d="M425.60 674.17v-.45a.5 .5 0 0 1 1 0v.45" fill="none" stroke="#dd6330" stroke-width=".38"/>
<text transform="rotate(.03 428.90 675.77)" x="428.90" y="675.77" font-size="3.8" text-anchor="start" fill="#b6b9bb">runToFromFloorAndSub(int)</text>
<text transform="rotate(.03 495.90 675.77)" x="495.90" y="675.77" font-size="3.8" text-anchor="end" fill="#b6b9bb">void</text>
<circle cx="421.40" cy="681.29" r="2.1" fill="#c4687c"/>
<rect x="420.30" y="680.74" width="2.2" height="1.1" fill="#2b2b2b" fill-opacity=".4"/>
<rect x="425.15" y="680.94" width="1.9" height="1.5" fill="#dd6330"/><path d="M425.60 680.99v-.45a.5 .5 0 0 1 1 0v.45" fill="none" stroke="#dd6330" stroke-width=".38"/>
<text transform="rotate(.03 428.90 682.59)" x="428.90" y="682.59" font-size="3.8" text-anchor="start" fill="#b6b9bb">getSubUpRequestIn1(int)</text>
<text transform="rotate(.03 495.90 682.59)" x="495.90" y="682.59" font-size="3.8" text-anchor="end" fill="#b6b9bb">void</text>
<circle cx="421.40" cy="688.12" r="2.1" fill="#c4687c"/>
<rect x="420.30" y="687.57" width="2.2" height="1.1" fill="#2b2b2b" fill-opacity=".4"/>
<rect x="425.15" y="687.77" width="1.9" height="1.5" fill="#dd6330"/><path d="M425.60 687.82v-.45a.5 .5 0 0 1 1 0v.45" fill="none" stroke="#dd6330" stroke-width=".38"/>
<text transform="rotate(.03 428.90 689.42)" x="428.90" y="689.42" font-size="3.8" text-anchor="start" fill="#b6b9bb">getSubDownRequestIn1(int)</text>
<text transform="rotate(.03 495.90 689.42)" x="495.90" y="689.42" font-size="3.8" text-anchor="end" fill="#b6b9bb">void</text>
<circle cx="421.40" cy="694.94" r="2.1" fill="#c4687c"/>
<rect x="420.30" y="694.39" width="2.2" height="1.1" fill="#2b2b2b" fill-opacity=".4"/>
<rect x="425.15" y="694.59" width="1.9" height="1.5" fill="#dd6330"/><path d="M425.60 694.64v-.45a.5 .5 0 0 1 1 0v.45" fill="none" stroke="#dd6330" stroke-width=".38"/>
<text transform="rotate(.03 428.90 696.24)" x="428.90" y="696.24" font-size="3.8" text-anchor="start" fill="#b6b9bb">requestOut1()</text>
<text transform="rotate(.03 495.90 696.24)" x="495.90" y="696.24" font-size="3.8" text-anchor="end" fill="#b6b9bb">void</text>
<circle cx="421.40" cy="701.77" r="2.1" fill="#c4687c"/>
<rect x="420.30" y="701.22" width="2.2" height="1.1" fill="#2b2b2b" fill-opacity=".4"/>
<rect x="425.15" y="701.42" width="1.9" height="1.5" fill="#dd6330"/><path d="M425.60 701.47v-.45a.5 .5 0 0 1 1 0v.45" fill="none" stroke="#dd6330" stroke-width=".38"/>
<text transform="rotate(.03 428.90 703.07)" x="428.90" y="703.07" font-size="3.8" text-anchor="start" fill="#b6b9bb">getSubUpRequestIn()</text>
<text transform="rotate(.03 495.90 703.07)" x="495.90" y="703.07" font-size="3.8" text-anchor="end" fill="#b6b9bb">void</text>
<circle cx="421.40" cy="708.59" r="2.1" fill="#c4687c"/>
<rect x="420.30" y="708.04" width="2.2" height="1.1" fill="#2b2b2b" fill-opacity=".4"/>
<rect x="425.15" y="708.24" width="1.9" height="1.5" fill="#dd6330"/><path d="M425.60 708.29v-.45a.5 .5 0 0 1 1 0v.45" fill="none" stroke="#dd6330" stroke-width=".38"/>
<text transform="rotate(.03 428.90 709.89)" x="428.90" y="709.89" font-size="3.8" text-anchor="start" fill="#b6b9bb">getSubDownRequestIn()</text>
<text transform="rotate(.03 495.90 709.89)" x="495.90" y="709.89" font-size="3.8" text-anchor="end" fill="#b6b9bb">void</text>
<circle cx="421.40" cy="715.42" r="2.1" fill="#c4687c"/>
<rect x="420.30" y="714.87" width="2.2" height="1.1" fill="#2b2b2b" fill-opacity=".4"/>
<rect x="425.15" y="715.07" width="1.9" height="1.5" fill="#dd6330"/><path d="M425.60 715.12v-.45a.5 .5 0 0 1 1 0v.45" fill="none" stroke="#dd6330" stroke-width=".38"/>
<text transform="rotate(.03 428.90 716.72)" x="428.90" y="716.72" font-size="3.8" text-anchor="start" fill="#b6b9bb">requestOut()</text>
<text transform="rotate(.03 495.90 716.72)" x="495.90" y="716.72" font-size="3.8" text-anchor="end" fill="#b6b9bb">void</text>
<circle cx="421.40" cy="722.24" r="2.1" fill="#c4687c"/>
<rect x="420.30" y="721.69" width="2.2" height="1.1" fill="#2b2b2b" fill-opacity=".4"/>
<rect x="425.15" y="721.89" width="1.9" height="1.5" fill="#dd6330"/><path d="M425.60 721.94v-.45a.5 .5 0 0 1 1 0v.45" fill="none" stroke="#dd6330" stroke-width=".38"/>
<text transform="rotate(.03 428.90 723.54)" x="428.90" y="723.54" font-size="3.8" text-anchor="start" fill="#b6b9bb">goUp()</text>
<text transform="rotate(.03 495.90 723.54)" x="495.90" y="723.54" font-size="3.8" text-anchor="end" fill="#b6b9bb">void</text>
<circle cx="421.40" cy="729.07" r="2.1" fill="#c4687c"/>
<rect x="420.30" y="728.52" width="2.2" height="1.1" fill="#2b2b2b" fill-opacity=".4"/>
<rect x="425.15" y="728.72" width="1.9" height="1.5" fill="#dd6330"/><path d="M425.60 728.77v-.45a.5 .5 0 0 1 1 0v.45" fill="none" stroke="#dd6330" stroke-width=".38"/>
<text transform="rotate(.03 428.90 730.37)" x="428.90" y="730.37" font-size="3.8" text-anchor="start" fill="#b6b9bb">goDown()</text>
<text transform="rotate(.03 495.90 730.37)" x="495.90" y="730.37" font-size="3.8" text-anchor="end" fill="#b6b9bb">void</text>
<circle cx="421.40" cy="735.89" r="2.1" fill="#c4687c"/>
<rect x="420.30" y="735.34" width="2.2" height="1.1" fill="#2b2b2b" fill-opacity=".4"/>
<path d="M425.10 734.59l.7 0 0 1 1.3 0 0 1.5-2 0z" fill="#62a83a"/>
<text transform="rotate(.03 428.90 737.19)" x="428.90" y="737.19" font-size="3.8" text-anchor="start" fill="#b6b9bb">run()</text>
<text transform="rotate(.03 495.90 737.19)" x="495.90" y="737.19" font-size="3.8" text-anchor="end" fill="#b6b9bb">void</text>
<rect x="344.20" y="655.00" width="63.50" height="17.10" fill="#202020" fill-opacity=".5"/>
<rect x="345.00" y="655.20" width="61.90" height="16.10" fill="#484949"/>
<rect x="345.90" y="663.60" width="60.10" height="6.80" fill="#3c3f41"/>
<rect x="345.50" y="655.50" width="60.90" height="8.10" fill="url(#hg)"/>
<circle cx="349.30" cy="659.50" r="2.1" fill="#5fa83a"/>
<rect x="349.00" y="658.40" width=".6" height="2.2" fill="#2b2b2b" fill-opacity=".5"/>
<path d="M353.00 658.20l.7 0 0 1 1.3 0 0 1.5-2 0z" fill="#62a83a"/>
<text transform="rotate(.03 357.20 660.85)" x="357.20" y="660.85" font-size="3.85" text-anchor="start" fill="#aeb1b3">Factory</text>
<line x1="345.00" x2="406.90" y1="663.70" y2="663.70" stroke="#676b6d" stroke-width=".55"/>
<rect x="348.10" y="665.25" width="2.6" height="2.2" fill="#9aa4ab"/><rect x="347.10" y="667.45" width="4.6" height="2" fill="#2f9ccf"/>
<text transform="rotate(.03 356.80 668.75)" x="356.80" y="668.75" font-size="3.8" text-anchor="start" fill="#b6b9bb">createElevator()</text>
<text transform="rotate(.03 405.00 668.75)" x="405.00" y="668.75" font-size="3.8" text-anchor="end" fill="#b6b9bb">Elevator</text>
<rect x="234.30" y="757.00" width="63.30" height="17.20" fill="#202020" fill-opacity=".5"/>
<rect x="235.10" y="757.20" width="61.70" height="16.20" fill="#484949"/>
<rect x="236.00" y="765.60" width="59.90" height="6.90" fill="#3c3f41"/>
<rect x="235.60" y="757.50" width="60.70" height="8.10" fill="url(#hg)"/>
<circle cx="239.40" cy="761.50" r="2.1" fill="#3a8fb5"/>
<path d="M240.20 760.70a1.1 1.1 0 1 0 0 1.6" fill="none" stroke="#2b2b2b" stroke-opacity=".5" stroke-width=".55"/>
<path d="M243.10 760.20l.7 0 0 1 1.3 0 0 1.5-2 0z" fill="#62a83a"/>
<text transform="rotate(.03 247.30 762.85)" x="247.30" y="762.85" font-size="3.85" text-anchor="start" fill="#aeb1b3">FactoryB</text>
<line x1="235.10" x2="296.80" y1="765.70" y2="765.70" stroke="#676b6d" stroke-width=".55"/>
<rect x="238.20" y="767.30" width="2.6" height="2.2" fill="#9aa4ab"/><rect x="237.20" y="769.50" width="4.6" height="2" fill="#2f9ccf"/>
<text transform="rotate(.03 246.90 770.80)" x="246.90" y="770.80" font-size="3.8" text-anchor="start" fill="#b6b9bb">createElevator()</text>
<text transform="rotate(.03 294.90 770.80)" x="294.90" y="770.80" font-size="3.8" text-anchor="end" fill="#b6b9bb">Elevator</text>
<rect x="302.00" y="757.00" width="62.90" height="17.20" fill="#202020" fill-opacity=".5"/>
<rect x="302.80" y="757.20" width="61.30" height="16.20" fill="#484949"/>
<rect x="303.70" y="765.60" width="59.50" height="6.90" fill="#3c3f41"/>
<rect x="303.30" y="757.50" width="60.30" height="8.10" fill="url(#hg)"/>
<circle cx="307.10" cy="761.50" r="2.1" fill="#3a8fb5"/>
<path d="M307.90 760.70a1.1 1.1 0 1 0 0 1.6" fill="none" stroke="#2b2b2b" stroke-opacity=".5" stroke-width=".55"/>
<path d="M310.80 760.20l.7 0 0 1 1.3 0 0 1.5-2 0z" fill="#62a83a"/>
<text transform="rotate(.03 315.00 762.85)" x="315.00" y="762.85" font-size="3.85" text-anchor="start" fill="#aeb1b3">FactoryA</text>
<line x1="302.80" x2="364.10" y1="765.70" y2="765.70" stroke="#676b6d" stroke-width=".55"/>
<rect x="305.90" y="767.30" width="2.6" height="2.2" fill="#9aa4ab"/><rect x="304.90" y="769.50" width="4.6" height="2" fill="#2f9ccf"/>
<text transform="rotate(.03 314.60 770.80)" x="314.60" y="770.80" font-size="3.8" text-anchor="start" fill="#b6b9bb">createElevator()</text>
<text transform="rotate(.03 362.20 770.80)" x="362.20" y="770.80" font-size="3.8" text-anchor="end" fill="#b6b9bb">Elevator</text>
<rect x="393.70" y="757.00" width="62.60" height="17.20" fill="#202020" fill-opacity=".5"/>
<rect x="394.50" y="757.20" width="61.00" height="16.20" fill="#484949"/>
<rect x="395.40" y="765.60" width="59.20" height="6.90" fill="#3c3f41"/>
<rect x="395.00" y="757.50" width="60.00" height="8.10" fill="url(#hg)"/>
<circle cx="398.80" cy="761.50" r="2.1" fill="#3a8fb5"/>
<path d="M399.60 760.70a1.1 1.1 0 1 0 0 1.6" fill="none" stroke="#2b2b2b" stroke-opacity=".5" stroke-width=".55"/>
<path d="M402.50 760.20l.7 0 0 1 1.3 0 0 1.5-2 0z" fill="#62a83a"/>
<text transform="rotate(.03 406.70 762.85)" x="406.70" y="762.85" font-size="3.85" text-anchor="start" fill="#aeb1b3">FactoryC</text>
<line x1="394.50" x2="455.50" y1="765.70" y2="765.70" stroke="#676b6d" stroke-width=".55"/>
<rect x="397.60" y="767.30" width="2.6" height="2.2" fill="#9aa4ab"/><rect x="396.60" y="769.50" width="4.6" height="2" fill="#2f9ccf"/>
<text transform="rotate(.03 406.30 770.80)" x="406.30" y="770.80" font-size="3.8" text-anchor="start" fill="#b6b9bb">createElevator()</text>
<text transform="rotate(.03 453.60 770.80)" x="453.60" y="770.80" font-size="3.8" text-anchor="end" fill="#b6b9bb">Elevator</text>
<rect x="324.20" y="793.80" width="53.50" height="16.60" fill="#202020" fill-opacity=".5"/>
<rect x="325.00" y="794.00" width="51.90" height="15.60" fill="#484949"/>
<rect x="325.90" y="802.40" width="50.10" height="6.30" fill="#3c3f41"/>
<rect x="325.50" y="794.30" width="50.90" height="8.10" fill="url(#hg)"/>
<circle cx="329.30" cy="798.30" r="2.1" fill="#3a8fb5"/>
<path d="M330.10 797.50a1.1 1.1 0 1 0 0 1.6" fill="none" stroke="#2b2b2b" stroke-opacity=".5" stroke-width=".55"/>
<path d="M330.00 795.90l1.8 1.1-1.8 1.1z" fill="#5fb346"/>
<path d="M333.00 797.00l.7 0 0 1 1.3 0 0 1.5-2 0z" fill="#62a83a"/>
<text transform="rotate(.03 337.20 799.65)" x="337.20" y="799.65" font-size="3.85" text-anchor="start" fill="#aeb1b3">Main</text>
<line x1="325.00" x2="376.90" y1="802.50" y2="802.50" stroke="#676b6d" stroke-width=".55"/>
<rect x="328.10" y="803.80" width="2.6" height="2.2" fill="#9aa4ab"/><rect x="327.10" y="806.00" width="4.6" height="2" fill="#2f9ccf"/>
<text transform="rotate(.03 336.80 807.30)" x="336.80" y="807.30" font-size="3.8" text-anchor="start" fill="#b6b9bb">main(String[])</text>
<text transform="rotate(.03 375.00 807.30)" x="375.00" y="807.30" font-size="3.8" text-anchor="end" fill="#b6b9bb">void</text>
<rect x="43.60" y="757.00" width="38.20" height="17.10" fill="#202020" fill-opacity=".5"/>
<rect x="44.40" y="757.20" width="36.60" height="16.10" fill="#484949"/>
<rect x="45.30" y="765.60" width="34.80" height="6.80" fill="#3c3f41"/>
<rect x="44.90" y="757.50" width="35.60" height="8.10" fill="url(#hg)"/>
<circle cx="48.70" cy="761.50" r="2.1" fill="#3a8fb5"/>
<path d="M49.50 760.70a1.1 1.1 0 1 0 0 1.6" fill="none" stroke="#2b2b2b" stroke-opacity=".5" stroke-width=".55"/>
<path d="M52.40 760.20l.7 0 0 1 1.3 0 0 1.5-2 0z" fill="#62a83a"/>
<text transform="rotate(.03 56.60 762.85)" x="56.60" y="762.85" font-size="3.85" text-anchor="start" fill="#aeb1b3">InputHandler</text>
<line x1="44.40" x2="81.00" y1="765.70" y2="765.70" stroke="#676b6d" stroke-width=".55"/>
<rect x="47.50" y="767.25" width="2.6" height="2.2" fill="#9aa4ab"/><rect x="46.50" y="769.45" width="4.6" height="2" fill="#2f9ccf"/>
<text transform="rotate(.03 56.20 770.75)" x="56.20" y="770.75" font-size="3.8" text-anchor="start" fill="#b6b9bb">run()</text>
<text transform="rotate(.03 79.10 770.75)" x="79.10" y="770.75" font-size="3.8" text-anchor="end" fill="#b6b9bb">void</text>
<rect x="681.60" y="5.80" width="78.10" height="16.60" fill="#202020" fill-opacity=".5"/>
<rect x="682.40" y="6.00" width="76.50" height="15.60" fill="#565348"/>
<rect x="683.30" y="14.40" width="74.70" height="6.30" fill="#4c493f"/>
<rect x="682.90" y="6.30" width="75.50" height="8.10" fill="url(#hy)"/>
<circle cx="686.70" cy="10.30" r="2.1" fill="#3a8fb5"/>
<path d="M687.50 9.50a1.1 1.1 0 1 0 0 1.6" fill="none" stroke="#2b2b2b" stroke-opacity=".5" stroke-width=".55"/>
<path d="M686.70 8.05a2.25 2.25 0 0 1 0 4.5z" fill="#62a83a"/>
<circle cx="691.40" cy="10.60" r=".5" fill="#c0c0c0"/>
<text transform="rotate(.03 694.60 11.65)" x="694.60" y="11.65" font-size="3.85" text-anchor="start" fill="#aeb1b3">SelfTestMainClassForTimableOutput</text>
<line x1="682.40" x2="758.90" y1="14.50" y2="14.50" stroke="#676b6d" stroke-width=".55"/>
<rect x="685.50" y="15.80" width="2.6" height="2.2" fill="#9aa4ab"/><rect x="684.50" y="18.00" width="4.6" height="2" fill="#2f9ccf"/>
<text transform="rotate(.03 694.20 19.30)" x="694.20" y="19.30" font-size="3.8" text-anchor="start" fill="#b6b9bb">main(String[])</text>
<text transform="rotate(.03 757.00 19.30)" x="757.00" y="19.30" font-size="3.8" text-anchor="end" fill="#b6b9bb">void</text>
<path d="M101.10 583.00L102.25 584.90L101.10 586.80L99.95 584.90z" fill="#e8e8e8" stroke="#e0e0e0" stroke-width=".35"/>
<path d="M228.90 583.00L230.05 584.90L228.90 586.80L227.75 584.90z" fill="#e8e8e8" stroke="#e0e0e0" stroke-width=".35"/>
<path d="M491.40 583.00L492.55 584.90L491.40 586.80L490.25 584.90z" fill="#e8e8e8" stroke="#e0e0e0" stroke-width=".35"/>
<path d="M105.70 174.30L106.85 176.20L105.70 178.10L104.55 176.20z" fill="#e8e8e8" stroke="#e0e0e0" stroke-width=".35"/>
<path d="M72.50 174.30L73.65 176.20L72.50 178.10L71.35 176.20z" fill="#2b2b2b" stroke="#e0e0e0" stroke-width=".35"/>
<text transform="rotate(.03 99.00 582.20)" x="99.00" y="582.20" font-size="3.5" text-anchor="middle" fill="#c4c4c4">1</text>
<text transform="rotate(.03 226.80 582.20)" x="226.80" y="582.20" font-size="3.5" text-anchor="middle" fill="#c4c4c4">1</text>
<text transform="rotate(.03 489.00 582.80)" x="489.00" y="582.80" font-size="3.5" text-anchor="middle" fill="#c4c4c4">1</text>
<text transform="rotate(.03 103.60 175.00)" x="103.60" y="175.00" font-size="3.5" text-anchor="middle" fill="#c4c4c4">1</text>
<rect x="527.30" y="10.60" width="54.50" height="9.40" rx="1" fill="#222" fill-opacity=".7"/>
<rect x="527.80" y="10.80" width="53.50" height="8.50" rx=".5" fill="url(#pg)" stroke="#6e6e6e" stroke-width=".5"/>
<path d="M529.90 13.45h1.5l.5 .6h2v2.7h-4z" fill="#9dafbc"/><rect x="530.50" y="14.75" width="1.6" height="1" fill="#4a4d4f"/>
<text transform="rotate(.03 535.60 16.35)" x="535.60" y="16.35" font-size="3.8" text-anchor="start" fill="#d2d2d2">Package groovyjarjarantlr</text>
<rect x="603.10" y="10.00" width="66.60" height="9.00" rx="1" fill="#222" fill-opacity=".7"/>
<rect x="603.60" y="10.20" width="65.60" height="8.10" rx=".5" fill="url(#pg)" stroke="#6e6e6e" stroke-width=".5"/>
<path d="M605.70 12.65h1.5l.5 .6h2v2.7h-4z" fill="#9dafbc"/><rect x="606.30" y="13.95" width="1.6" height="1" fill="#4a4d4f"/>
<text transform="rotate(.03 611.40 15.55)" x="611.40" y="15.55" font-size="3.8" text-anchor="start" fill="#d2d2d2">Package groovyjarjarcommonscli</text>
<rect x="771.60" y="6.00" width="52.80" height="9.40" rx="1" fill="#222" fill-opacity=".7"/>
<rect x="772.10" y="6.20" width="51.80" height="8.50" rx=".5" fill="url(#pg)" stroke="#6e6e6e" stroke-width=".5"/>
<path d="M773.90 8.85h1.5l.5 .6h2v2.7h-4z" fill="#9dafbc"/><rect x="774.50" y="10.15" width="1.6" height="1" fill="#4a4d4f"/>
<text transform="rotate(.03 779.10 11.75)" x="779.10" y="11.75" font-size="3.8" text-anchor="start" fill="#d2d2d2">Package groovyjarjarasm</text>
<path d="M572.80 19.40L573.95 21.30L572.80 23.20L571.65 21.30z" fill="#e8e8e8" stroke="#e0e0e0" stroke-width=".35"/>
<path d="M554.80 19.40L555.95 21.30L554.80 23.20L553.65 21.30z" fill="#e8e8e8" stroke="#e0e0e0" stroke-width=".35"/>
<path d="M652.60 18.40L653.75 20.30L652.60 22.20L651.45 20.30z" fill="#e8e8e8" stroke="#e0e0e0" stroke-width=".35"/>
<text transform="rotate(.03 523.50 9.50)" x="523.50" y="9.50" font-size="3.5" text-anchor="middle" fill="#c4c4c4">1</text>
<text transform="rotate(.03 552.20 26.30)" x="552.20" y="26.30" font-size="3.5" text-anchor="middle" fill="#c4c4c4">1</text>
<text transform="rotate(.03 570.20 26.30)" x="570.20" y="26.30" font-size="3.5" text-anchor="middle" fill="#c4c4c4">1</text>
<text transform="rotate(.03 598.60 10.60)" x="598.60" y="10.60" font-size="3.5" text-anchor="middle" fill="#c4c4c4">*</text>
<text transform="rotate(.03 650.00 25.50)" x="650.00" y="25.50" font-size="3.5" text-anchor="middle" fill="#c4c4c4">1</text>
<rect x="5.60" y="823.00" width="43.00" height="9.40" rx="1" fill="#222" fill-opacity=".7"/>
<rect x="6.10" y="823.20" width="42.00" height="8.50" rx=".5" fill="url(#pg)" stroke="#6e6e6e" stroke-width=".5"/>
<path d="M8.20 825.85h1.5l.5 .6h2v2.7h-4z" fill="#9dafbc"/><rect x="8.80" y="827.15" width="1.6" height="1" fill="#4a4d4f"/>
<text transform="rotate(.03 13.90 828.75)" x="13.90" y="828.75" font-size="3.8" text-anchor="start" fill="#d2d2d2">Package META-INF</text>
<rect x="60.80" y="823.00" width="40.70" height="9.40" rx="1" fill="#222" fill-opacity=".7"/>
<rect x="61.30" y="823.20" width="39.70" height="8.50" rx=".5" fill="url(#pg)" stroke="#6e6e6e" stroke-width=".5"/>
<path d="M63.40 825.85h1.5l.5 .6h2v2.7h-4z" fill="#9dafbc"/><rect x="64.00" y="827.15" width="1.6" height="1" fill="#4a4d4f"/>
<text transform="rotate(.03 69.10 828.75)" x="69.10" y="828.75" font-size="3.8" text-anchor="start" fill="#d2d2d2">Package netscape</text>
<rect x="113.70" y="823.00" width="37.80" height="9.40" rx="1" fill="#222" fill-opacity=".7"/>
<rect x="114.20" y="823.20" width="36.80" height="8.50" rx=".5" fill="url(#pg)" stroke="#6e6e6e" stroke-width=".5"/>
<path d="M116.30 825.85h1.5l.5 .6h2v2.7h-4z" fill="#9dafbc"/><rect x="116.90" y="827.15" width="1.6" height="1" fill="#4a4d4f"/>
<text transform="rotate(.03 122.00 828.75)" x="122.00" y="828.75" font-size="3.8" text-anchor="start" fill="#d2d2d2">Package groovy</text>
<rect x="163.80" y="823.00" width="36.00" height="9.40" rx="1" fill="#222" fill-opacity=".7"/>
<rect x="164.30" y="823.20" width="35.00" height="8.50" rx=".5" fill="url(#pg)" stroke="#6e6e6e" stroke-width=".5"/>
<path d="M166.40 825.85h1.5l.5 .6h2v2.7h-4z" fill="#9dafbc"/><rect x="167.00" y="827.15" width="1.6" height="1" fill="#4a4d4f"/>
<text transform="rotate(.03 172.10 828.75)" x="172.10" y="828.75" font-size="3.8" text-anchor="start" fill="#d2d2d2">Package oracle</text>
<rect x="212.50" y="823.00" width="34.50" height="9.40" rx="1" fill="#222" fill-opacity=".7"/>
<rect x="213.00" y="823.20" width="33.50" height="8.50" rx=".5" fill="url(#pg)" stroke="#6e6e6e" stroke-width=".5"/>
<path d="M215.10 825.85h1.5l.5 .6h2v2.7h-4z" fill="#9dafbc"/><rect x="215.70" y="827.15" width="1.6" height="1" fill="#4a4d4f"/>
<text transform="rotate(.03 220.80 828.75)" x="220.80" y="828.75" font-size="3.8" text-anchor="start" fill="#d2d2d2">Package javafx</text>
<rect x="259.50" y="823.00" width="34.00" height="9.40" rx="1" fill="#222" fill-opacity=".7"/>
<rect x="260.00" y="823.20" width="33.00" height="8.50" rx=".5" fill="url(#pg)" stroke="#6e6e6e" stroke-width=".5"/>
<path d="M262.10 825.85h1.5l.5 .6h2v2.7h-4z" fill="#9dafbc"/><rect x="262.70" y="827.15" width="1.6" height="1" fill="#4a4d4f"/>
<text transform="rotate(.03 267.80 828.75)" x="267.80" y="828.75" font-size="3.8" text-anchor="start" fill="#d2d2d2">Package javax</text>
<rect x="306.00" y="823.00" width="33.50" height="9.40" rx="1" fill="#222" fill-opacity=".7"/>
<rect x="306.50" y="823.20" width="32.50" height="8.50" rx=".5" fill="url(#pg)" stroke="#6e6e6e" stroke-width=".5"/>
<path d="M308.60 825.85h1.5l.5 .6h2v2.7h-4z" fill="#9dafbc"/><rect x="309.20" y="827.15" width="1.6" height="1" fill="#4a4d4f"/>
<text transform="rotate(.03 314.30 828.75)" x="314.30" y="828.75" font-size="3.8" text-anchor="start" fill="#d2d2d2">Package com</text>
<rect x="306.50" y="823.20" width="32.50" height="8.50" rx=".5" fill="none" stroke="#44689a" stroke-width=".6"/>
<rect x="305.05" y="821.45" width="1.1" height="1.1" fill="#dcdcdc"/>
<rect x="305.05" y="827.10" width="1.1" height="1.1" fill="#dcdcdc"/>
<rect x="305.05" y="832.75" width="1.1" height="1.1" fill="#dcdcdc"/>
<rect x="322.20" y="821.45" width="1.1" height="1.1" fill="#dcdcdc"/>
<rect x="322.20" y="832.75" width="1.1" height="1.1" fill="#dcdcdc"/>
<rect x="339.55" y="821.45" width="1.1" height="1.1" fill="#dcdcdc"/>
<rect x="339.55" y="827.10" width="1.1" height="1.1" fill="#dcdcdc"/>
<rect x="339.55" y="832.75" width="1.1" height="1.1" fill="#dcdcdc"/>
<rect x="351.50" y="823.00" width="31.30" height="9.40" rx="1" fill="#222" fill-opacity=".7"/>
<rect x="352.00" y="823.20" width="30.30" height="8.50" rx=".5" fill="url(#pg)" stroke="#6e6e6e" stroke-width=".5"/>
<path d="M354.10 825.85h1.5l.5 .6h2v2.7h-4z" fill="#9dafbc"/><rect x="354.70" y="827.15" width="1.6" height="1" fill="#4a4d4f"/>
<text transform="rotate(.03 359.80 828.75)" x="359.80" y="828.75" font-size="3.8" text-anchor="start" fill="#d2d2d2">Package java</text>
<rect x="395.80" y="823.00" width="31.50" height="9.40" rx="1" fill="#222" fill-opacity=".7"/>
<rect x="396.30" y="823.20" width="30.50" height="8.50" rx=".5" fill="url(#pg)" stroke="#6e6e6e" stroke-width=".5"/>
<path d="M398.40 825.85h1.5l.5 .6h2v2.7h-4z" fill="#9dafbc"/><rect x="399.00" y="827.15" width="1.6" height="1" fill="#4a4d4f"/>
<text transform="rotate(.03 404.10 828.75)" x="404.10" y="828.75" font-size="3.8" text-anchor="start" fill="#d2d2d2">Package sun</text>
<rect x="439.80" y="823.00" width="31.50" height="9.40" rx="1" fill="#222" fill-opacity=".7"/>
<rect x="440.30" y="823.20" width="30.50" height="8.50" rx=".5" fill="url(#pg)" stroke="#6e6e6e" stroke-width=".5"/>
<path d="M442.40 825.85h1.5l.5 .6h2v2.7h-4z" fill="#9dafbc"/><rect x="443.00" y="827.15" width="1.6" height="1" fill="#4a4d4f"/>
<text transform="rotate(.03 448.10 828.75)" x="448.10" y="828.75" font-size="3.8" text-anchor="start" fill="#d2d2d2">Package org</text>
<rect x="483.80" y="823.00" width="31.20" height="9.40" rx="1" fill="#222" fill-opacity=".7"/>
<rect x="484.30" y="823.20" width="30.20" height="8.50" rx=".5" fill="url(#pg)" stroke="#6e6e6e" stroke-width=".5"/>
<path d="M486.40 825.85h1.5l.5 .6h2v2.7h-4z" fill="#9dafbc"/><rect x="487.00" y="827.15" width="1.6" height="1" fill="#4a4d4f"/>
<text transform="rotate(.03 492.10 828.75)" x="492.10" y="828.75" font-size="3.8" text-anchor="start" fill="#d2d2d2">Package jdk</text>
<text transform="rotate(.03 3.00 834.60)" x="3.00" y="834.60" font-size="3.4" text-anchor="start" fill="#8c8c8c">Powered by yFiles</text>
<path d="M111.25 45.00L113.00 42.20L114.75 45.00" fill="none" stroke="#c4c4c4" stroke-width=".42"/>
<circle cx="113.00" cy="42.20" r=".5" fill="#dcdcdc"/>
<path d="M118.51 45.00L120.26 42.20L122.01 45.00" fill="none" stroke="#c4c4c4" stroke-width=".42"/>
<circle cx="120.26" cy="42.20" r=".5" fill="#dcdcdc"/>
<path d="M125.77 45.00L127.52 42.20L129.27 45.00" fill="none" stroke="#c4c4c4" stroke-width=".42"/>
<circle cx="127.52" cy="42.20" r=".5" fill="#dcdcdc"/>
<path d="M133.03 45.00L134.78 42.20L136.53 45.00" fill="none" stroke="#c4c4c4" stroke-width=".42"/>
<circle cx="134.78" cy="42.20" r=".5" fill="#dcdcdc"/>
<path d="M140.29 45.00L142.04 42.20L143.79 45.00" fill="none" stroke="#c4c4c4" stroke-width=".42"/>
<circle cx="142.04" cy="42.20" r=".5" fill="#dcdcdc"/>
<path d="M147.55 45.00L149.30 42.20L151.05 45.00" fill="none" stroke="#c4c4c4" stroke-width=".42"/>
<circle cx="149.30" cy="42.20" r=".5" fill="#dcdcdc"/>
<path d="M154.81 45.00L156.56 42.20L158.31 45.00" fill="none" stroke="#c4c4c4" stroke-width=".42"/>
<circle cx="156.56" cy="42.20" r=".5" fill="#dcdcdc"/>
<path d="M162.07 45.00L163.82 42.20L165.57 45.00" fill="none" stroke="#c4c4c4" stroke-width=".42"/>
<circle cx="163.82" cy="42.20" r=".5" fill="#dcdcdc"/>
<path d="M169.33 45.00L171.08 42.20L172.83 45.00" fill="none" stroke="#c4c4c4" stroke-width=".42"/>
<circle cx="171.08" cy="42.20" r=".5" fill="#dcdcdc"/>
<path d="M176.59 45.00L178.34 42.20L180.09 45.00" fill="none" stroke="#c4c4c4" stroke-width=".42"/>
<circle cx="178.34" cy="42.20" r=".5" fill="#dcdcdc"/>
<path d="M183.85 45.00L185.60 42.20L187.35 45.00" fill="none" stroke="#c4c4c4" stroke-width=".42"/>
<circle cx="185.60" cy="42.20" r=".5" fill="#dcdcdc"/>
<rect x="99.60" y="55.30" width="13.20" height="4.2" fill="#2b2b2b"/>
<text transform="rotate(.03 106.20 58.40)" x="106.20" y="58.40" font-size="3.4" text-anchor="middle" fill="#e2e2e2">«create»</text>
<rect x="96.00" y="114.90" width="13.20" height="4.2" fill="#2b2b2b"/>
<text transform="rotate(.03 102.60 118.00)" x="102.60" y="118.00" font-size="3.4" text-anchor="middle" fill="#e2e2e2">«create»</text>
<path d="M153.75 142.60L155.50 139.80L157.25 142.60" fill="none" stroke="#c4c4c4" stroke-width=".42"/>
<circle cx="155.50" cy="139.80" r=".5" fill="#dcdcdc"/>
<path d="M169.65 142.60L171.40 139.80L173.15 142.60" fill="none" stroke="#c4c4c4" stroke-width=".42"/>
<circle cx="171.40" cy="139.80" r=".5" fill="#dcdcdc"/>
<path d="M185.95 142.60L187.70 139.80L189.45 142.60" fill="none" stroke="#c4c4c4" stroke-width=".42"/>
<circle cx="187.70" cy="139.80" r=".5" fill="#dcdcdc"/>
<path d="M202.15 142.60L203.90 139.80L205.65 142.60" fill="none" stroke="#c4c4c4" stroke-width=".42"/>
<circle cx="203.90" cy="139.80" r=".5" fill="#dcdcdc"/>
<path d="M32.45 166.10L34.20 163.30L35.95 166.10" fill="none" stroke="#c4c4c4" stroke-width=".42"/>
<circle cx="34.20" cy="163.30" r=".5" fill="#dcdcdc"/>
<path d="M58.05 545.20L59.80 542.40L61.55 545.20" fill="none" stroke="#c4c4c4" stroke-width=".42"/>
<circle cx="59.80" cy="542.40" r=".5" fill="#dcdcdc"/>
<path d="M83.35 545.20L85.10 542.40L86.85 545.20" fill="none" stroke="#c4c4c4" stroke-width=".42"/>
<circle cx="85.10" cy="542.40" r=".5" fill="#dcdcdc"/>
<path d="M108.55 545.20L110.30 542.40L112.05 545.20" fill="none" stroke="#c4c4c4" stroke-width=".42"/>
<circle cx="110.30" cy="542.40" r=".5" fill="#dcdcdc"/>
<path d="M133.65 545.20L135.40 542.40L137.15 545.20" fill="none" stroke="#c4c4c4" stroke-width=".42"/>
<circle cx="135.40" cy="542.40" r=".5" fill="#dcdcdc"/>
<path d="M254.75 374.50L256.50 371.70L258.25 374.50" fill="none" stroke="#c4c4c4" stroke-width=".42"/>
<circle cx="256.50" cy="371.70" r=".5" fill="#dcdcdc"/>
<path d="M275.95 374.50L277.70 371.70L279.45 374.50" fill="none" stroke="#c4c4c4" stroke-width=".42"/>
<circle cx="277.70" cy="371.70" r=".5" fill="#dcdcdc"/>
<path d="M297.25 374.50L299.00 371.70L300.75 374.50" fill="none" stroke="#c4c4c4" stroke-width=".42"/>
<circle cx="299.00" cy="371.70" r=".5" fill="#dcdcdc"/>
<path d="M351.85 367.30L353.60 364.50L355.35 367.30" fill="none" stroke="#c4c4c4" stroke-width=".42"/>
<circle cx="353.60" cy="364.50" r=".5" fill="#dcdcdc"/>
<path d="M355.55 367.30L357.30 364.50L359.05 367.30" fill="none" stroke="#c4c4c4" stroke-width=".42"/>
<circle cx="357.30" cy="364.50" r=".5" fill="#dcdcdc"/>
<path d="M358.95 367.30L360.70 364.50L362.45 367.30" fill="none" stroke="#c4c4c4" stroke-width=".42"/>
<circle cx="360.70" cy="364.50" r=".5" fill="#dcdcdc"/>
<path d="M362.65 367.30L364.40 364.50L366.15 367.30" fill="none" stroke="#c4c4c4" stroke-width=".42"/>
<circle cx="364.40" cy="364.50" r=".5" fill="#dcdcdc"/>
<path d="M369.45 367.30L371.20 364.50L372.95 367.30" fill="none" stroke="#c4c4c4" stroke-width=".42"/>
<circle cx="371.20" cy="364.50" r=".5" fill="#dcdcdc"/>
<path d="M345.00 367.70L346.60 364.70L348.20 367.70z" fill="#4f8ff0"/>
<path d="M348.80 367.70L350.40 364.70L352.00 367.70z" fill="#4f8ff0"/>
<path d="M366.00 367.70L367.60 364.70L369.20 367.70z" fill="#4f8ff0"/>
<path d="M133.45 742.30L135.20 739.50L136.95 742.30" fill="none" stroke="#c4c4c4" stroke-width=".42"/>
<circle cx="135.20" cy="739.50" r=".5" fill="#dcdcdc"/>
<path d="M220.85 742.30L222.60 739.50L224.35 742.30" fill="none" stroke="#c4c4c4" stroke-width=".42"/>
<circle cx="222.60" cy="739.50" r=".5" fill="#dcdcdc"/>
<path d="M455.55 742.30L457.30 739.50L459.05 742.30" fill="none" stroke="#c4c4c4" stroke-width=".42"/>
<circle cx="457.30" cy="739.50" r=".5" fill="#dcdcdc"/>
<rect x="183.60" y="749.20" width="13.20" height="4.2" fill="#2b2b2b"/>
<text transform="rotate(.03 190.20 752.30)" x="190.20" y="752.30" font-size="3.4" text-anchor="middle" fill="#e2e2e2">«create»</text>
<rect x="261.10" y="743.30" width="13.20" height="4.2" fill="#2b2b2b"/>
<text transform="rotate(.03 267.70 746.40)" x="267.70" y="746.40" font-size="3.4" text-anchor="middle" fill="#e2e2e2">«create»</text>
<rect x="450.70" y="745.10" width="13.20" height="4.2" fill="#2b2b2b"/>
<text transform="rotate(.03 457.30 748.20)" x="457.30" y="748.20" font-size="3.4" text-anchor="middle" fill="#e2e2e2">«create»</text>
<path d="M381.75 674.10L383.50 671.30L385.25 674.10" fill="none" stroke="#c4c4c4" stroke-width=".42"/>
<circle cx="383.50" cy="671.30" r=".5" fill="#dcdcdc"/>
<path d="M351.30 674.50L352.90 671.50L354.50 674.50z" fill="#5fb24a"/>
<path d="M366.80 674.50L368.40 671.50L370.00 674.50z" fill="#5fb24a"/>
<path d="M397.70 674.50L399.30 671.50L400.90 674.50z" fill="#5fb24a"/>
<path d="M51.75 776.10L53.50 773.30L55.25 776.10" fill="none" stroke="#c4c4c4" stroke-width=".42"/>
<circle cx="53.50" cy="773.30" r=".5" fill="#dcdcdc"/>
<path d="M70.55 776.10L72.30 773.30L74.05 776.10" fill="none" stroke="#c4c4c4" stroke-width=".42"/>
<circle cx="72.30" cy="773.30" r=".5" fill="#dcdcdc"/>
<path d="M264.25 776.20L266.00 773.40L267.75 776.20" fill="none" stroke="#c4c4c4" stroke-width=".42"/>
<circle cx="266.00" cy="773.40" r=".5" fill="#dcdcdc"/>
<path d="M331.65 776.20L333.40 773.40L335.15 776.20" fill="none" stroke="#c4c4c4" stroke-width=".42"/>
<circle cx="333.40" cy="773.40" r=".5" fill="#dcdcdc"/>
<path d="M423.85 776.20L425.60 773.40L427.35 776.20" fill="none" stroke="#c4c4c4" stroke-width=".42"/>
<circle cx="425.60" cy="773.40" r=".5" fill="#dcdcdc"/>
<rect x="184.40" y="786.50" width="13.20" height="4.2" fill="#2b2b2b"/>
<text transform="rotate(.03 191.00 789.60)" x="191.00" y="789.60" font-size="3.4" text-anchor="middle" fill="#e2e2e2">«create»</text>
<rect x="297.90" y="780.40" width="13.20" height="4.2" fill="#2b2b2b"/>
<text transform="rotate(.03 304.50 783.50)" x="304.50" y="783.50" font-size="3.4" text-anchor="middle" fill="#e2e2e2">«create»</text>
<rect x="336.10" y="777.50" width="13.20" height="4.2" fill="#2b2b2b"/>
<text transform="rotate(.03 342.70 780.60)" x="342.70" y="780.60" font-size="3.4" text-anchor="middle" fill="#e2e2e2">«create»</text>
<rect x="388.60" y="783.10" width="13.20" height="4.2" fill="#2b2b2b"/>
<text transform="rotate(.03 395.20 786.20)" x="395.20" y="786.20" font-size="3.4" text-anchor="middle" fill="#e2e2e2">«create»</text>
<path d="M525.60 10.60L527.80 11.90L525.60 13.20" fill="none" stroke="#c4c4c4" stroke-width=".42"/>
<circle cx="527.80" cy="11.90" r=".5" fill="#dcdcdc"/>
<path d="M525.60 13.70L527.80 15.00L525.60 16.30" fill="none" stroke="#c4c4c4" stroke-width=".42"/>
<circle cx="527.80" cy="15.00" r=".5" fill="#dcdcdc"/>
<path d="M525.60 16.60L527.80 17.90L525.60 19.20" fill="none" stroke="#c4c4c4" stroke-width=".42"/>
<circle cx="527.80" cy="17.90" r=".5" fill="#dcdcdc"/>
<path d="M601.40 11.30L603.60 12.60L601.40 13.90" fill="none" stroke="#c4c4c4" stroke-width=".42"/>
<circle cx="603.60" cy="12.60" r=".5" fill="#dcdcdc"/>
<path d="M601.40 15.10L603.60 16.40L601.40 17.70" fill="none" stroke="#c4c4c4" stroke-width=".42"/>
<circle cx="603.60" cy="16.40" r=".5" fill="#dcdcdc"/>
</g>
<rect x="828.7" y="0" width="1.3" height="839" fill="#212121"/>
<rect x="0" y="836.7" width="831" height="1.3" fill="#212121"/>
<rect x="829.9" y="0" width="1.1" height="839" fill="#f2f2f2"/>
<rect x="0" y="837.9" width="831" height="1.1" fill="#f2f2f2"/>
</svg>
</body></html>
